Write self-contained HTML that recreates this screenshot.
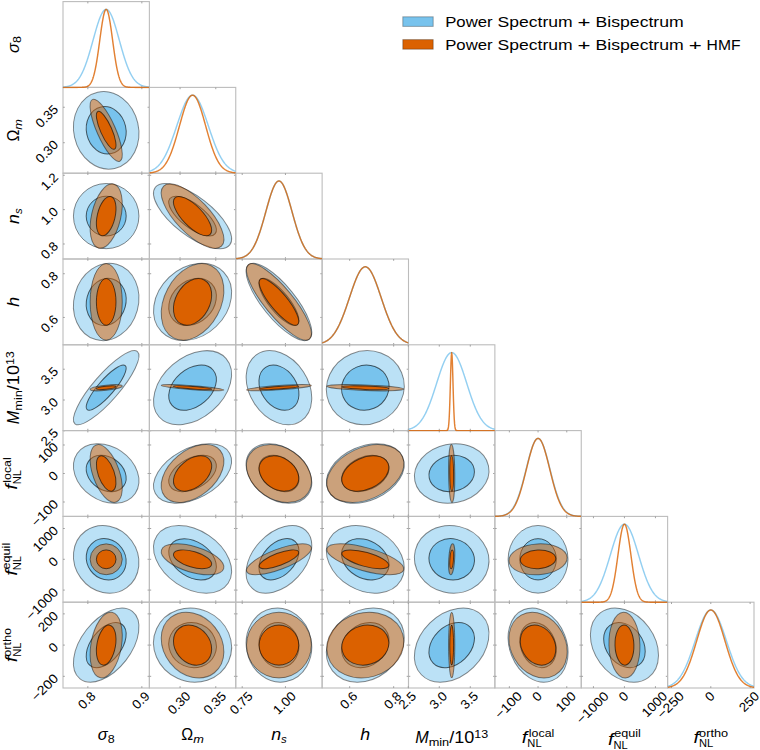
<!DOCTYPE html><html><head><meta charset="utf-8"><style>html,body{margin:0;padding:0;background:#fff;width:760px;height:750px;overflow:hidden}svg{display:block}text{font-family:"Liberation Sans",sans-serif;fill:#000}.i{font-style:italic}</style></head><body>
<svg width="760" height="750" viewBox="0 0 760 750">
<rect width="760" height="750" fill="#fff"/>
<defs>
<clipPath id="c00"><rect x="63.000" y="1.600" width="86.375" height="85.800"/></clipPath>
<clipPath id="d0"><rect x="63.000" y="1.600" width="86.375" height="86.800"/></clipPath>
<clipPath id="c10"><rect x="63.000" y="87.400" width="86.375" height="85.800"/></clipPath>
<clipPath id="c11"><rect x="149.375" y="87.400" width="86.375" height="85.800"/></clipPath>
<clipPath id="d1"><rect x="149.375" y="87.400" width="86.375" height="86.800"/></clipPath>
<clipPath id="c20"><rect x="63.000" y="173.200" width="86.375" height="85.800"/></clipPath>
<clipPath id="c21"><rect x="149.375" y="173.200" width="86.375" height="85.800"/></clipPath>
<clipPath id="c22"><rect x="235.750" y="173.200" width="86.375" height="85.800"/></clipPath>
<clipPath id="d2"><rect x="235.750" y="173.200" width="86.375" height="86.800"/></clipPath>
<clipPath id="c30"><rect x="63.000" y="259.000" width="86.375" height="85.800"/></clipPath>
<clipPath id="c31"><rect x="149.375" y="259.000" width="86.375" height="85.800"/></clipPath>
<clipPath id="c32"><rect x="235.750" y="259.000" width="86.375" height="85.800"/></clipPath>
<clipPath id="c33"><rect x="322.125" y="259.000" width="86.375" height="85.800"/></clipPath>
<clipPath id="d3"><rect x="322.125" y="259.000" width="86.375" height="86.800"/></clipPath>
<clipPath id="c40"><rect x="63.000" y="344.800" width="86.375" height="85.800"/></clipPath>
<clipPath id="c41"><rect x="149.375" y="344.800" width="86.375" height="85.800"/></clipPath>
<clipPath id="c42"><rect x="235.750" y="344.800" width="86.375" height="85.800"/></clipPath>
<clipPath id="c43"><rect x="322.125" y="344.800" width="86.375" height="85.800"/></clipPath>
<clipPath id="c44"><rect x="408.500" y="344.800" width="86.375" height="85.800"/></clipPath>
<clipPath id="d4"><rect x="408.500" y="344.800" width="86.375" height="86.800"/></clipPath>
<clipPath id="c50"><rect x="63.000" y="430.600" width="86.375" height="85.800"/></clipPath>
<clipPath id="c51"><rect x="149.375" y="430.600" width="86.375" height="85.800"/></clipPath>
<clipPath id="c52"><rect x="235.750" y="430.600" width="86.375" height="85.800"/></clipPath>
<clipPath id="c53"><rect x="322.125" y="430.600" width="86.375" height="85.800"/></clipPath>
<clipPath id="c54"><rect x="408.500" y="430.600" width="86.375" height="85.800"/></clipPath>
<clipPath id="c55"><rect x="494.875" y="430.600" width="86.375" height="85.800"/></clipPath>
<clipPath id="d5"><rect x="494.875" y="430.600" width="86.375" height="86.800"/></clipPath>
<clipPath id="c60"><rect x="63.000" y="516.400" width="86.375" height="85.800"/></clipPath>
<clipPath id="c61"><rect x="149.375" y="516.400" width="86.375" height="85.800"/></clipPath>
<clipPath id="c62"><rect x="235.750" y="516.400" width="86.375" height="85.800"/></clipPath>
<clipPath id="c63"><rect x="322.125" y="516.400" width="86.375" height="85.800"/></clipPath>
<clipPath id="c64"><rect x="408.500" y="516.400" width="86.375" height="85.800"/></clipPath>
<clipPath id="c65"><rect x="494.875" y="516.400" width="86.375" height="85.800"/></clipPath>
<clipPath id="c66"><rect x="581.250" y="516.400" width="86.375" height="85.800"/></clipPath>
<clipPath id="d6"><rect x="581.250" y="516.400" width="86.375" height="86.800"/></clipPath>
<clipPath id="c70"><rect x="63.000" y="602.200" width="86.375" height="85.800"/></clipPath>
<clipPath id="c71"><rect x="149.375" y="602.200" width="86.375" height="85.800"/></clipPath>
<clipPath id="c72"><rect x="235.750" y="602.200" width="86.375" height="85.800"/></clipPath>
<clipPath id="c73"><rect x="322.125" y="602.200" width="86.375" height="85.800"/></clipPath>
<clipPath id="c74"><rect x="408.500" y="602.200" width="86.375" height="85.800"/></clipPath>
<clipPath id="c75"><rect x="494.875" y="602.200" width="86.375" height="85.800"/></clipPath>
<clipPath id="c76"><rect x="581.250" y="602.200" width="86.375" height="85.800"/></clipPath>
<clipPath id="c77"><rect x="667.625" y="602.200" width="86.375" height="85.800"/></clipPath>
<clipPath id="d7"><rect x="667.625" y="602.200" width="86.375" height="86.800"/></clipPath>
</defs>
<g clip-path="url(#c10)">
<ellipse cx="106.19" cy="130.30" rx="39.06" ry="32.41" transform="rotate(77.34 106.19 130.30)" fill="#78C3ED" fill-opacity="0.500" stroke="#000000" stroke-opacity="0.450" stroke-width="1.00"/>
<ellipse cx="106.19" cy="130.30" rx="23.83" ry="19.77" transform="rotate(77.34 106.19 130.30)" fill="#78C3ED" fill-opacity="1.000" stroke="#000000" stroke-opacity="0.600" stroke-width="1.00"/>
<ellipse cx="106.19" cy="130.30" rx="33.78" ry="9.27" transform="rotate(66.13 106.19 130.30)" fill="#DB6100" fill-opacity="0.500" stroke="#000000" stroke-opacity="0.450" stroke-width="1.00"/>
<ellipse cx="106.19" cy="130.30" rx="20.61" ry="5.66" transform="rotate(66.13 106.19 130.30)" fill="#DB6100" fill-opacity="1.000" stroke="#000000" stroke-opacity="0.600" stroke-width="1.00"/>
</g>
<g clip-path="url(#c20)">
<ellipse cx="106.19" cy="216.10" rx="32.76" ry="32.60" transform="rotate(0.00 106.19 216.10)" fill="#78C3ED" fill-opacity="0.500" stroke="#000000" stroke-opacity="0.450" stroke-width="1.00"/>
<ellipse cx="106.19" cy="216.10" rx="19.99" ry="19.89" transform="rotate(0.00 106.19 216.10)" fill="#78C3ED" fill-opacity="1.000" stroke="#000000" stroke-opacity="0.600" stroke-width="1.00"/>
<ellipse cx="106.19" cy="216.10" rx="32.91" ry="14.63" transform="rotate(103.10 106.19 216.10)" fill="#DB6100" fill-opacity="0.500" stroke="#000000" stroke-opacity="0.450" stroke-width="1.00"/>
<ellipse cx="106.19" cy="216.10" rx="20.08" ry="8.93" transform="rotate(103.10 106.19 216.10)" fill="#DB6100" fill-opacity="1.000" stroke="#000000" stroke-opacity="0.600" stroke-width="1.00"/>
</g>
<g clip-path="url(#c21)">
<ellipse cx="192.56" cy="216.10" rx="47.04" ry="19.31" transform="rotate(37.75 192.56 216.10)" fill="#78C3ED" fill-opacity="0.500" stroke="#000000" stroke-opacity="0.450" stroke-width="1.00"/>
<ellipse cx="192.56" cy="216.10" rx="28.70" ry="11.78" transform="rotate(37.75 192.56 216.10)" fill="#78C3ED" fill-opacity="1.000" stroke="#000000" stroke-opacity="0.600" stroke-width="1.00"/>
<ellipse cx="192.56" cy="216.10" rx="41.68" ry="16.81" transform="rotate(46.13 192.56 216.10)" fill="#DB6100" fill-opacity="0.500" stroke="#000000" stroke-opacity="0.450" stroke-width="1.00"/>
<ellipse cx="192.56" cy="216.10" rx="25.43" ry="10.25" transform="rotate(46.13 192.56 216.10)" fill="#DB6100" fill-opacity="1.000" stroke="#000000" stroke-opacity="0.600" stroke-width="1.00"/>
</g>
<g clip-path="url(#c30)">
<ellipse cx="106.19" cy="301.90" rx="39.10" ry="32.22" transform="rotate(105.54 106.19 301.90)" fill="#78C3ED" fill-opacity="0.500" stroke="#000000" stroke-opacity="0.450" stroke-width="1.00"/>
<ellipse cx="106.19" cy="301.90" rx="23.85" ry="19.66" transform="rotate(105.54 106.19 301.90)" fill="#78C3ED" fill-opacity="1.000" stroke="#000000" stroke-opacity="0.600" stroke-width="1.00"/>
<ellipse cx="106.19" cy="301.90" rx="38.28" ry="16.08" transform="rotate(90.00 106.19 301.90)" fill="#DB6100" fill-opacity="0.500" stroke="#000000" stroke-opacity="0.450" stroke-width="1.00"/>
<ellipse cx="106.19" cy="301.90" rx="23.35" ry="9.81" transform="rotate(90.00 106.19 301.90)" fill="#DB6100" fill-opacity="1.000" stroke="#000000" stroke-opacity="0.600" stroke-width="1.00"/>
</g>
<g clip-path="url(#c31)">
<ellipse cx="192.56" cy="301.90" rx="43.08" ry="34.08" transform="rotate(136.23 192.56 301.90)" fill="#78C3ED" fill-opacity="0.500" stroke="#000000" stroke-opacity="0.450" stroke-width="1.00"/>
<ellipse cx="192.56" cy="301.90" rx="26.28" ry="20.79" transform="rotate(136.23 192.56 301.90)" fill="#78C3ED" fill-opacity="1.000" stroke="#000000" stroke-opacity="0.600" stroke-width="1.00"/>
<ellipse cx="192.56" cy="301.90" rx="40.70" ry="28.10" transform="rotate(118.04 192.56 301.90)" fill="#DB6100" fill-opacity="0.500" stroke="#000000" stroke-opacity="0.450" stroke-width="1.00"/>
<ellipse cx="192.56" cy="301.90" rx="24.83" ry="17.14" transform="rotate(118.04 192.56 301.90)" fill="#DB6100" fill-opacity="1.000" stroke="#000000" stroke-opacity="0.600" stroke-width="1.00"/>
</g>
<g clip-path="url(#c32)">
<ellipse cx="278.94" cy="301.90" rx="47.98" ry="16.37" transform="rotate(50.91 278.94 301.90)" fill="#78C3ED" fill-opacity="0.500" stroke="#000000" stroke-opacity="0.450" stroke-width="1.00"/>
<ellipse cx="278.94" cy="301.90" rx="29.27" ry="9.99" transform="rotate(50.91 278.94 301.90)" fill="#78C3ED" fill-opacity="1.000" stroke="#000000" stroke-opacity="0.600" stroke-width="1.00"/>
<ellipse cx="278.94" cy="301.90" rx="48.12" ry="14.20" transform="rotate(50.63 278.94 301.90)" fill="#DB6100" fill-opacity="0.500" stroke="#000000" stroke-opacity="0.450" stroke-width="1.00"/>
<ellipse cx="278.94" cy="301.90" rx="29.36" ry="8.66" transform="rotate(50.63 278.94 301.90)" fill="#DB6100" fill-opacity="1.000" stroke="#000000" stroke-opacity="0.600" stroke-width="1.00"/>
</g>
<g clip-path="url(#c40)">
<ellipse cx="106.19" cy="387.70" rx="47.72" ry="12.98" transform="rotate(130.93 106.19 387.70)" fill="#78C3ED" fill-opacity="0.500" stroke="#000000" stroke-opacity="0.450" stroke-width="1.00"/>
<ellipse cx="106.19" cy="387.70" rx="29.11" ry="7.92" transform="rotate(130.93 106.19 387.70)" fill="#78C3ED" fill-opacity="1.000" stroke="#000000" stroke-opacity="0.600" stroke-width="1.00"/>
<ellipse cx="106.19" cy="387.70" rx="16.18" ry="2.56" transform="rotate(173.82 106.19 387.70)" fill="#DB6100" fill-opacity="0.500" stroke="#000000" stroke-opacity="0.450" stroke-width="1.00"/>
<ellipse cx="106.19" cy="387.70" rx="9.87" ry="1.56" transform="rotate(173.82 106.19 387.70)" fill="#DB6100" fill-opacity="1.000" stroke="#000000" stroke-opacity="0.600" stroke-width="1.00"/>
</g>
<g clip-path="url(#c41)">
<ellipse cx="192.56" cy="387.70" rx="44.43" ry="30.36" transform="rotate(139.13 192.56 387.70)" fill="#78C3ED" fill-opacity="0.500" stroke="#000000" stroke-opacity="0.450" stroke-width="1.00"/>
<ellipse cx="192.56" cy="387.70" rx="27.10" ry="18.52" transform="rotate(139.13 192.56 387.70)" fill="#78C3ED" fill-opacity="1.000" stroke="#000000" stroke-opacity="0.600" stroke-width="1.00"/>
<ellipse cx="192.56" cy="387.70" rx="31.41" ry="2.04" transform="rotate(4.24 192.56 387.70)" fill="#DB6100" fill-opacity="0.500" stroke="#000000" stroke-opacity="0.450" stroke-width="1.00"/>
<ellipse cx="192.56" cy="387.70" rx="19.16" ry="1.24" transform="rotate(4.24 192.56 387.70)" fill="#DB6100" fill-opacity="1.000" stroke="#000000" stroke-opacity="0.600" stroke-width="1.00"/>
</g>
<g clip-path="url(#c42)">
<ellipse cx="278.94" cy="387.70" rx="39.94" ry="29.21" transform="rotate(56.72 278.94 387.70)" fill="#78C3ED" fill-opacity="0.500" stroke="#000000" stroke-opacity="0.450" stroke-width="1.00"/>
<ellipse cx="278.94" cy="387.70" rx="24.37" ry="17.82" transform="rotate(56.72 278.94 387.70)" fill="#78C3ED" fill-opacity="1.000" stroke="#000000" stroke-opacity="0.600" stroke-width="1.00"/>
<ellipse cx="278.94" cy="387.70" rx="32.52" ry="2.10" transform="rotate(176.01 278.94 387.70)" fill="#DB6100" fill-opacity="0.500" stroke="#000000" stroke-opacity="0.450" stroke-width="1.00"/>
<ellipse cx="278.94" cy="387.70" rx="19.84" ry="1.28" transform="rotate(176.01 278.94 387.70)" fill="#DB6100" fill-opacity="1.000" stroke="#000000" stroke-opacity="0.600" stroke-width="1.00"/>
</g>
<g clip-path="url(#c43)">
<ellipse cx="365.31" cy="387.70" rx="39.29" ry="36.63" transform="rotate(157.25 365.31 387.70)" fill="#78C3ED" fill-opacity="0.500" stroke="#000000" stroke-opacity="0.450" stroke-width="1.00"/>
<ellipse cx="365.31" cy="387.70" rx="23.97" ry="22.35" transform="rotate(157.25 365.31 387.70)" fill="#78C3ED" fill-opacity="1.000" stroke="#000000" stroke-opacity="0.600" stroke-width="1.00"/>
<ellipse cx="365.31" cy="387.70" rx="38.56" ry="2.75" transform="rotate(2.08 365.31 387.70)" fill="#DB6100" fill-opacity="0.500" stroke="#000000" stroke-opacity="0.450" stroke-width="1.00"/>
<ellipse cx="365.31" cy="387.70" rx="23.52" ry="1.68" transform="rotate(2.08 365.31 387.70)" fill="#DB6100" fill-opacity="1.000" stroke="#000000" stroke-opacity="0.600" stroke-width="1.00"/>
</g>
<g clip-path="url(#c50)">
<ellipse cx="106.19" cy="473.50" rx="35.22" ry="26.80" transform="rotate(34.45 106.19 473.50)" fill="#78C3ED" fill-opacity="0.500" stroke="#000000" stroke-opacity="0.450" stroke-width="1.00"/>
<ellipse cx="106.19" cy="473.50" rx="21.49" ry="16.35" transform="rotate(34.45 106.19 473.50)" fill="#78C3ED" fill-opacity="1.000" stroke="#000000" stroke-opacity="0.600" stroke-width="1.00"/>
<ellipse cx="106.19" cy="473.50" rx="30.28" ry="13.29" transform="rotate(70.55 106.19 473.50)" fill="#DB6100" fill-opacity="0.500" stroke="#000000" stroke-opacity="0.450" stroke-width="1.00"/>
<ellipse cx="106.19" cy="473.50" rx="18.47" ry="8.11" transform="rotate(70.55 106.19 473.50)" fill="#DB6100" fill-opacity="1.000" stroke="#000000" stroke-opacity="0.600" stroke-width="1.00"/>
</g>
<g clip-path="url(#c51)">
<ellipse cx="192.56" cy="473.50" rx="42.27" ry="24.93" transform="rotate(151.59 192.56 473.50)" fill="#78C3ED" fill-opacity="0.500" stroke="#000000" stroke-opacity="0.450" stroke-width="1.00"/>
<ellipse cx="192.56" cy="473.50" rx="25.79" ry="15.21" transform="rotate(151.59 192.56 473.50)" fill="#78C3ED" fill-opacity="1.000" stroke="#000000" stroke-opacity="0.600" stroke-width="1.00"/>
<ellipse cx="192.56" cy="473.50" rx="35.99" ry="22.82" transform="rotate(140.45 192.56 473.50)" fill="#DB6100" fill-opacity="0.500" stroke="#000000" stroke-opacity="0.450" stroke-width="1.00"/>
<ellipse cx="192.56" cy="473.50" rx="21.95" ry="13.92" transform="rotate(140.45 192.56 473.50)" fill="#DB6100" fill-opacity="1.000" stroke="#000000" stroke-opacity="0.600" stroke-width="1.00"/>
</g>
<g clip-path="url(#c52)">
<ellipse cx="278.94" cy="473.50" rx="35.91" ry="25.94" transform="rotate(35.96 278.94 473.50)" fill="#78C3ED" fill-opacity="0.500" stroke="#000000" stroke-opacity="0.450" stroke-width="1.00"/>
<ellipse cx="278.94" cy="473.50" rx="21.91" ry="15.83" transform="rotate(35.96 278.94 473.50)" fill="#78C3ED" fill-opacity="1.000" stroke="#000000" stroke-opacity="0.600" stroke-width="1.00"/>
<ellipse cx="278.94" cy="473.50" rx="34.92" ry="25.85" transform="rotate(33.36 278.94 473.50)" fill="#DB6100" fill-opacity="0.500" stroke="#000000" stroke-opacity="0.450" stroke-width="1.00"/>
<ellipse cx="278.94" cy="473.50" rx="21.30" ry="15.77" transform="rotate(33.36 278.94 473.50)" fill="#DB6100" fill-opacity="1.000" stroke="#000000" stroke-opacity="0.600" stroke-width="1.00"/>
</g>
<g clip-path="url(#c53)">
<ellipse cx="365.31" cy="473.50" rx="40.84" ry="27.04" transform="rotate(156.06 365.31 473.50)" fill="#78C3ED" fill-opacity="0.500" stroke="#000000" stroke-opacity="0.450" stroke-width="1.00"/>
<ellipse cx="365.31" cy="473.50" rx="24.91" ry="16.50" transform="rotate(156.06 365.31 473.50)" fill="#78C3ED" fill-opacity="1.000" stroke="#000000" stroke-opacity="0.600" stroke-width="1.00"/>
<ellipse cx="365.31" cy="473.50" rx="40.73" ry="25.71" transform="rotate(155.32 365.31 473.50)" fill="#DB6100" fill-opacity="0.500" stroke="#000000" stroke-opacity="0.450" stroke-width="1.00"/>
<ellipse cx="365.31" cy="473.50" rx="24.85" ry="15.68" transform="rotate(155.32 365.31 473.50)" fill="#DB6100" fill-opacity="1.000" stroke="#000000" stroke-opacity="0.600" stroke-width="1.00"/>
</g>
<g clip-path="url(#c54)">
<ellipse cx="451.69" cy="473.50" rx="37.60" ry="29.36" transform="rotate(168.14 451.69 473.50)" fill="#78C3ED" fill-opacity="0.500" stroke="#000000" stroke-opacity="0.450" stroke-width="1.00"/>
<ellipse cx="451.69" cy="473.50" rx="22.94" ry="17.91" transform="rotate(168.14 451.69 473.50)" fill="#78C3ED" fill-opacity="1.000" stroke="#000000" stroke-opacity="0.600" stroke-width="1.00"/>
<ellipse cx="451.69" cy="473.50" rx="28.89" ry="3.09" transform="rotate(89.38 451.69 473.50)" fill="#DB6100" fill-opacity="0.500" stroke="#000000" stroke-opacity="0.450" stroke-width="1.00"/>
<ellipse cx="451.69" cy="473.50" rx="17.63" ry="1.89" transform="rotate(89.38 451.69 473.50)" fill="#DB6100" fill-opacity="1.000" stroke="#000000" stroke-opacity="0.600" stroke-width="1.00"/>
</g>
<g clip-path="url(#c60)">
<ellipse cx="106.19" cy="559.30" rx="35.01" ry="31.51" transform="rotate(53.88 106.19 559.30)" fill="#78C3ED" fill-opacity="0.500" stroke="#000000" stroke-opacity="0.450" stroke-width="1.00"/>
<ellipse cx="106.19" cy="559.30" rx="21.36" ry="19.22" transform="rotate(53.88 106.19 559.30)" fill="#78C3ED" fill-opacity="1.000" stroke="#000000" stroke-opacity="0.600" stroke-width="1.00"/>
<ellipse cx="106.19" cy="559.30" rx="16.08" ry="15.43" transform="rotate(0.00 106.19 559.30)" fill="#DB6100" fill-opacity="0.500" stroke="#000000" stroke-opacity="0.450" stroke-width="1.00"/>
<ellipse cx="106.19" cy="559.30" rx="9.81" ry="9.42" transform="rotate(0.00 106.19 559.30)" fill="#DB6100" fill-opacity="1.000" stroke="#000000" stroke-opacity="0.600" stroke-width="1.00"/>
</g>
<g clip-path="url(#c61)">
<ellipse cx="192.56" cy="559.30" rx="42.82" ry="28.89" transform="rotate(33.86 192.56 559.30)" fill="#78C3ED" fill-opacity="0.500" stroke="#000000" stroke-opacity="0.450" stroke-width="1.00"/>
<ellipse cx="192.56" cy="559.30" rx="26.12" ry="17.62" transform="rotate(33.86 192.56 559.30)" fill="#78C3ED" fill-opacity="1.000" stroke="#000000" stroke-opacity="0.600" stroke-width="1.00"/>
<ellipse cx="192.56" cy="559.30" rx="32.45" ry="12.90" transform="rotate(16.53 192.56 559.30)" fill="#DB6100" fill-opacity="0.500" stroke="#000000" stroke-opacity="0.450" stroke-width="1.00"/>
<ellipse cx="192.56" cy="559.30" rx="19.79" ry="7.87" transform="rotate(16.53 192.56 559.30)" fill="#DB6100" fill-opacity="1.000" stroke="#000000" stroke-opacity="0.600" stroke-width="1.00"/>
</g>
<g clip-path="url(#c62)">
<ellipse cx="278.94" cy="559.30" rx="39.45" ry="25.79" transform="rotate(132.82 278.94 559.30)" fill="#78C3ED" fill-opacity="0.500" stroke="#000000" stroke-opacity="0.450" stroke-width="1.00"/>
<ellipse cx="278.94" cy="559.30" rx="24.06" ry="15.74" transform="rotate(132.82 278.94 559.30)" fill="#78C3ED" fill-opacity="1.000" stroke="#000000" stroke-opacity="0.600" stroke-width="1.00"/>
<ellipse cx="278.94" cy="559.30" rx="34.48" ry="10.08" transform="rotate(159.24 278.94 559.30)" fill="#DB6100" fill-opacity="0.500" stroke="#000000" stroke-opacity="0.450" stroke-width="1.00"/>
<ellipse cx="278.94" cy="559.30" rx="21.04" ry="6.15" transform="rotate(159.24 278.94 559.30)" fill="#DB6100" fill-opacity="1.000" stroke="#000000" stroke-opacity="0.600" stroke-width="1.00"/>
</g>
<g clip-path="url(#c63)">
<ellipse cx="365.31" cy="559.30" rx="41.31" ry="30.85" transform="rotate(30.36 365.31 559.30)" fill="#78C3ED" fill-opacity="0.500" stroke="#000000" stroke-opacity="0.450" stroke-width="1.00"/>
<ellipse cx="365.31" cy="559.30" rx="25.20" ry="18.82" transform="rotate(30.36 365.31 559.30)" fill="#78C3ED" fill-opacity="1.000" stroke="#000000" stroke-opacity="0.600" stroke-width="1.00"/>
<ellipse cx="365.31" cy="559.30" rx="39.86" ry="11.59" transform="rotate(15.51 365.31 559.30)" fill="#DB6100" fill-opacity="0.500" stroke="#000000" stroke-opacity="0.450" stroke-width="1.00"/>
<ellipse cx="365.31" cy="559.30" rx="24.32" ry="7.07" transform="rotate(15.51 365.31 559.30)" fill="#DB6100" fill-opacity="1.000" stroke="#000000" stroke-opacity="0.600" stroke-width="1.00"/>
</g>
<g clip-path="url(#c64)">
<ellipse cx="451.69" cy="559.30" rx="37.49" ry="33.61" transform="rotate(13.58 451.69 559.30)" fill="#78C3ED" fill-opacity="0.500" stroke="#000000" stroke-opacity="0.450" stroke-width="1.00"/>
<ellipse cx="451.69" cy="559.30" rx="22.87" ry="20.50" transform="rotate(13.58 451.69 559.30)" fill="#78C3ED" fill-opacity="1.000" stroke="#000000" stroke-opacity="0.600" stroke-width="1.00"/>
<ellipse cx="451.69" cy="559.30" rx="15.46" ry="2.96" transform="rotate(93.59 451.69 559.30)" fill="#DB6100" fill-opacity="0.500" stroke="#000000" stroke-opacity="0.450" stroke-width="1.00"/>
<ellipse cx="451.69" cy="559.30" rx="9.43" ry="1.80" transform="rotate(93.59 451.69 559.30)" fill="#DB6100" fill-opacity="1.000" stroke="#000000" stroke-opacity="0.600" stroke-width="1.00"/>
</g>
<g clip-path="url(#c65)">
<ellipse cx="538.06" cy="559.30" rx="33.83" ry="29.96" transform="rotate(90.00 538.06 559.30)" fill="#78C3ED" fill-opacity="0.500" stroke="#000000" stroke-opacity="0.450" stroke-width="1.00"/>
<ellipse cx="538.06" cy="559.30" rx="20.64" ry="18.27" transform="rotate(90.00 538.06 559.30)" fill="#78C3ED" fill-opacity="1.000" stroke="#000000" stroke-opacity="0.600" stroke-width="1.00"/>
<ellipse cx="538.06" cy="559.30" rx="29.12" ry="15.37" transform="rotate(176.63 538.06 559.30)" fill="#DB6100" fill-opacity="0.500" stroke="#000000" stroke-opacity="0.450" stroke-width="1.00"/>
<ellipse cx="538.06" cy="559.30" rx="17.77" ry="9.37" transform="rotate(176.63 538.06 559.30)" fill="#DB6100" fill-opacity="1.000" stroke="#000000" stroke-opacity="0.600" stroke-width="1.00"/>
</g>
<g clip-path="url(#c70)">
<ellipse cx="106.19" cy="645.10" rx="42.71" ry="24.93" transform="rotate(127.81 106.19 645.10)" fill="#78C3ED" fill-opacity="0.500" stroke="#000000" stroke-opacity="0.450" stroke-width="1.00"/>
<ellipse cx="106.19" cy="645.10" rx="26.06" ry="15.21" transform="rotate(127.81 106.19 645.10)" fill="#78C3ED" fill-opacity="1.000" stroke="#000000" stroke-opacity="0.600" stroke-width="1.00"/>
<ellipse cx="106.19" cy="645.10" rx="33.23" ry="15.26" transform="rotate(99.92 106.19 645.10)" fill="#DB6100" fill-opacity="0.500" stroke="#000000" stroke-opacity="0.450" stroke-width="1.00"/>
<ellipse cx="106.19" cy="645.10" rx="20.27" ry="9.31" transform="rotate(99.92 106.19 645.10)" fill="#DB6100" fill-opacity="1.000" stroke="#000000" stroke-opacity="0.600" stroke-width="1.00"/>
</g>
<g clip-path="url(#c71)">
<ellipse cx="192.56" cy="645.10" rx="39.53" ry="36.50" transform="rotate(24.46 192.56 645.10)" fill="#78C3ED" fill-opacity="0.500" stroke="#000000" stroke-opacity="0.450" stroke-width="1.00"/>
<ellipse cx="192.56" cy="645.10" rx="24.12" ry="22.27" transform="rotate(24.46 192.56 645.10)" fill="#78C3ED" fill-opacity="1.000" stroke="#000000" stroke-opacity="0.600" stroke-width="1.00"/>
<ellipse cx="192.56" cy="645.10" rx="35.23" ry="28.61" transform="rotate(51.67 192.56 645.10)" fill="#DB6100" fill-opacity="0.500" stroke="#000000" stroke-opacity="0.450" stroke-width="1.00"/>
<ellipse cx="192.56" cy="645.10" rx="21.49" ry="17.45" transform="rotate(51.67 192.56 645.10)" fill="#DB6100" fill-opacity="1.000" stroke="#000000" stroke-opacity="0.600" stroke-width="1.00"/>
</g>
<g clip-path="url(#c72)">
<ellipse cx="278.94" cy="645.10" rx="37.20" ry="32.63" transform="rotate(78.81 278.94 645.10)" fill="#78C3ED" fill-opacity="0.500" stroke="#000000" stroke-opacity="0.450" stroke-width="1.00"/>
<ellipse cx="278.94" cy="645.10" rx="22.70" ry="19.91" transform="rotate(78.81 278.94 645.10)" fill="#78C3ED" fill-opacity="1.000" stroke="#000000" stroke-opacity="0.600" stroke-width="1.00"/>
<ellipse cx="278.94" cy="645.10" rx="32.84" ry="32.44" transform="rotate(90.00 278.94 645.10)" fill="#DB6100" fill-opacity="0.500" stroke="#000000" stroke-opacity="0.450" stroke-width="1.00"/>
<ellipse cx="278.94" cy="645.10" rx="20.04" ry="19.79" transform="rotate(90.00 278.94 645.10)" fill="#DB6100" fill-opacity="1.000" stroke="#000000" stroke-opacity="0.600" stroke-width="1.00"/>
</g>
<g clip-path="url(#c73)">
<ellipse cx="365.31" cy="645.10" rx="41.71" ry="33.85" transform="rotate(141.90 365.31 645.10)" fill="#78C3ED" fill-opacity="0.500" stroke="#000000" stroke-opacity="0.450" stroke-width="1.00"/>
<ellipse cx="365.31" cy="645.10" rx="25.44" ry="20.65" transform="rotate(141.90 365.31 645.10)" fill="#78C3ED" fill-opacity="1.000" stroke="#000000" stroke-opacity="0.600" stroke-width="1.00"/>
<ellipse cx="365.31" cy="645.10" rx="39.00" ry="32.29" transform="rotate(164.03 365.31 645.10)" fill="#DB6100" fill-opacity="0.500" stroke="#000000" stroke-opacity="0.450" stroke-width="1.00"/>
<ellipse cx="365.31" cy="645.10" rx="23.79" ry="19.70" transform="rotate(164.03 365.31 645.10)" fill="#DB6100" fill-opacity="1.000" stroke="#000000" stroke-opacity="0.600" stroke-width="1.00"/>
</g>
<g clip-path="url(#c74)">
<ellipse cx="451.69" cy="645.10" rx="42.38" ry="31.09" transform="rotate(135.64 451.69 645.10)" fill="#78C3ED" fill-opacity="0.500" stroke="#000000" stroke-opacity="0.450" stroke-width="1.00"/>
<ellipse cx="451.69" cy="645.10" rx="25.85" ry="18.97" transform="rotate(135.64 451.69 645.10)" fill="#78C3ED" fill-opacity="1.000" stroke="#000000" stroke-opacity="0.600" stroke-width="1.00"/>
<ellipse cx="451.69" cy="645.10" rx="32.84" ry="3.11" transform="rotate(90.00 451.69 645.10)" fill="#DB6100" fill-opacity="0.500" stroke="#000000" stroke-opacity="0.450" stroke-width="1.00"/>
<ellipse cx="451.69" cy="645.10" rx="20.04" ry="1.90" transform="rotate(90.00 451.69 645.10)" fill="#DB6100" fill-opacity="1.000" stroke="#000000" stroke-opacity="0.600" stroke-width="1.00"/>
</g>
<g clip-path="url(#c75)">
<ellipse cx="538.06" cy="645.10" rx="38.21" ry="28.46" transform="rotate(68.46 538.06 645.10)" fill="#78C3ED" fill-opacity="0.500" stroke="#000000" stroke-opacity="0.450" stroke-width="1.00"/>
<ellipse cx="538.06" cy="645.10" rx="23.31" ry="17.36" transform="rotate(68.46 538.06 645.10)" fill="#78C3ED" fill-opacity="1.000" stroke="#000000" stroke-opacity="0.600" stroke-width="1.00"/>
<ellipse cx="538.06" cy="645.10" rx="34.44" ry="27.18" transform="rotate(60.67 538.06 645.10)" fill="#DB6100" fill-opacity="0.500" stroke="#000000" stroke-opacity="0.450" stroke-width="1.00"/>
<ellipse cx="538.06" cy="645.10" rx="21.01" ry="16.58" transform="rotate(60.67 538.06 645.10)" fill="#DB6100" fill-opacity="1.000" stroke="#000000" stroke-opacity="0.600" stroke-width="1.00"/>
</g>
<g clip-path="url(#c76)">
<ellipse cx="624.44" cy="645.10" rx="40.28" ry="30.15" transform="rotate(53.65 624.44 645.10)" fill="#78C3ED" fill-opacity="0.500" stroke="#000000" stroke-opacity="0.450" stroke-width="1.00"/>
<ellipse cx="624.44" cy="645.10" rx="24.57" ry="18.40" transform="rotate(53.65 624.44 645.10)" fill="#78C3ED" fill-opacity="1.000" stroke="#000000" stroke-opacity="0.600" stroke-width="1.00"/>
<ellipse cx="624.44" cy="645.10" rx="32.85" ry="15.51" transform="rotate(88.26 624.44 645.10)" fill="#DB6100" fill-opacity="0.500" stroke="#000000" stroke-opacity="0.450" stroke-width="1.00"/>
<ellipse cx="624.44" cy="645.10" rx="20.04" ry="9.46" transform="rotate(88.26 624.44 645.10)" fill="#DB6100" fill-opacity="1.000" stroke="#000000" stroke-opacity="0.600" stroke-width="1.00"/>
</g>
<rect x="63.000" y="1.600" width="86.375" height="85.800" fill="none" stroke="#bcbcbc" stroke-width="1.10"/>
<path d="M87.83 87.40v-1.80M87.83 1.60v1.80" stroke="#999999" stroke-width="0.90"/>
<path d="M141.83 87.40v-1.80M141.83 1.60v1.80" stroke="#999999" stroke-width="0.90"/>
<rect x="63.000" y="87.400" width="86.375" height="85.800" fill="none" stroke="#bcbcbc" stroke-width="1.10"/>
<path d="M87.83 173.20v-1.80M87.83 87.40v1.80" stroke="#999999" stroke-width="0.90"/>
<path d="M141.83 173.20v-1.80M141.83 87.40v1.80" stroke="#999999" stroke-width="0.90"/>
<path d="M63.00 142.71h1.80M149.38 142.71h-1.80" stroke="#999999" stroke-width="0.90"/>
<path d="M63.00 107.25h1.80M149.38 107.25h-1.80" stroke="#999999" stroke-width="0.90"/>
<rect x="149.375" y="87.400" width="86.375" height="85.800" fill="none" stroke="#bcbcbc" stroke-width="1.10"/>
<path d="M180.07 173.20v-1.80M180.07 87.40v1.80" stroke="#999999" stroke-width="0.90"/>
<path d="M215.77 173.20v-1.80M215.77 87.40v1.80" stroke="#999999" stroke-width="0.90"/>
<rect x="63.000" y="173.200" width="86.375" height="85.800" fill="none" stroke="#bcbcbc" stroke-width="1.10"/>
<path d="M87.83 259.00v-1.80M87.83 173.20v1.80" stroke="#999999" stroke-width="0.90"/>
<path d="M141.83 259.00v-1.80M141.83 173.20v1.80" stroke="#999999" stroke-width="0.90"/>
<path d="M63.00 243.99h1.80M149.38 243.99h-1.80" stroke="#999999" stroke-width="0.90"/>
<path d="M63.00 209.64h1.80M149.38 209.64h-1.80" stroke="#999999" stroke-width="0.90"/>
<path d="M63.00 175.29h1.80M149.38 175.29h-1.80" stroke="#999999" stroke-width="0.90"/>
<rect x="149.375" y="173.200" width="86.375" height="85.800" fill="none" stroke="#bcbcbc" stroke-width="1.10"/>
<path d="M180.07 259.00v-1.80M180.07 173.20v1.80" stroke="#999999" stroke-width="0.90"/>
<path d="M215.77 259.00v-1.80M215.77 173.20v1.80" stroke="#999999" stroke-width="0.90"/>
<path d="M149.38 243.99h1.80M235.75 243.99h-1.80" stroke="#999999" stroke-width="0.90"/>
<path d="M149.38 209.64h1.80M235.75 209.64h-1.80" stroke="#999999" stroke-width="0.90"/>
<path d="M149.38 175.29h1.80M235.75 175.29h-1.80" stroke="#999999" stroke-width="0.90"/>
<rect x="235.750" y="173.200" width="86.375" height="85.800" fill="none" stroke="#bcbcbc" stroke-width="1.10"/>
<path d="M242.21 259.00v-1.80M242.21 173.20v1.80" stroke="#999999" stroke-width="0.90"/>
<path d="M285.44 259.00v-1.80M285.44 173.20v1.80" stroke="#999999" stroke-width="0.90"/>
<rect x="63.000" y="259.000" width="86.375" height="85.800" fill="none" stroke="#bcbcbc" stroke-width="1.10"/>
<path d="M87.83 344.80v-1.80M87.83 259.00v1.80" stroke="#999999" stroke-width="0.90"/>
<path d="M141.83 344.80v-1.80M141.83 259.00v1.80" stroke="#999999" stroke-width="0.90"/>
<path d="M63.00 317.44h1.80M149.38 317.44h-1.80" stroke="#999999" stroke-width="0.90"/>
<path d="M63.00 273.73h1.80M149.38 273.73h-1.80" stroke="#999999" stroke-width="0.90"/>
<rect x="149.375" y="259.000" width="86.375" height="85.800" fill="none" stroke="#bcbcbc" stroke-width="1.10"/>
<path d="M180.07 344.80v-1.80M180.07 259.00v1.80" stroke="#999999" stroke-width="0.90"/>
<path d="M215.77 344.80v-1.80M215.77 259.00v1.80" stroke="#999999" stroke-width="0.90"/>
<path d="M149.38 317.44h1.80M235.75 317.44h-1.80" stroke="#999999" stroke-width="0.90"/>
<path d="M149.38 273.73h1.80M235.75 273.73h-1.80" stroke="#999999" stroke-width="0.90"/>
<rect x="235.750" y="259.000" width="86.375" height="85.800" fill="none" stroke="#bcbcbc" stroke-width="1.10"/>
<path d="M242.21 344.80v-1.80M242.21 259.00v1.80" stroke="#999999" stroke-width="0.90"/>
<path d="M285.44 344.80v-1.80M285.44 259.00v1.80" stroke="#999999" stroke-width="0.90"/>
<path d="M235.75 317.44h1.80M322.12 317.44h-1.80" stroke="#999999" stroke-width="0.90"/>
<path d="M235.75 273.73h1.80M322.12 273.73h-1.80" stroke="#999999" stroke-width="0.90"/>
<rect x="322.125" y="259.000" width="86.375" height="85.800" fill="none" stroke="#bcbcbc" stroke-width="1.10"/>
<path d="M349.67 344.80v-1.80M349.67 259.00v1.80" stroke="#999999" stroke-width="0.90"/>
<path d="M393.67 344.80v-1.80M393.67 259.00v1.80" stroke="#999999" stroke-width="0.90"/>
<rect x="63.000" y="344.800" width="86.375" height="85.800" fill="none" stroke="#bcbcbc" stroke-width="1.10"/>
<path d="M87.83 430.60v-1.80M87.83 344.80v1.80" stroke="#999999" stroke-width="0.90"/>
<path d="M141.83 430.60v-1.80M141.83 344.80v1.80" stroke="#999999" stroke-width="0.90"/>
<path d="M63.00 430.81h1.80M149.38 430.81h-1.80" stroke="#999999" stroke-width="0.90"/>
<path d="M63.00 400.02h1.80M149.38 400.02h-1.80" stroke="#999999" stroke-width="0.90"/>
<path d="M63.00 369.22h1.80M149.38 369.22h-1.80" stroke="#999999" stroke-width="0.90"/>
<rect x="149.375" y="344.800" width="86.375" height="85.800" fill="none" stroke="#bcbcbc" stroke-width="1.10"/>
<path d="M180.07 430.60v-1.80M180.07 344.80v1.80" stroke="#999999" stroke-width="0.90"/>
<path d="M215.77 430.60v-1.80M215.77 344.80v1.80" stroke="#999999" stroke-width="0.90"/>
<path d="M149.38 430.81h1.80M235.75 430.81h-1.80" stroke="#999999" stroke-width="0.90"/>
<path d="M149.38 400.02h1.80M235.75 400.02h-1.80" stroke="#999999" stroke-width="0.90"/>
<path d="M149.38 369.22h1.80M235.75 369.22h-1.80" stroke="#999999" stroke-width="0.90"/>
<rect x="235.750" y="344.800" width="86.375" height="85.800" fill="none" stroke="#bcbcbc" stroke-width="1.10"/>
<path d="M242.21 430.60v-1.80M242.21 344.80v1.80" stroke="#999999" stroke-width="0.90"/>
<path d="M285.44 430.60v-1.80M285.44 344.80v1.80" stroke="#999999" stroke-width="0.90"/>
<path d="M235.75 430.81h1.80M322.12 430.81h-1.80" stroke="#999999" stroke-width="0.90"/>
<path d="M235.75 400.02h1.80M322.12 400.02h-1.80" stroke="#999999" stroke-width="0.90"/>
<path d="M235.75 369.22h1.80M322.12 369.22h-1.80" stroke="#999999" stroke-width="0.90"/>
<rect x="322.125" y="344.800" width="86.375" height="85.800" fill="none" stroke="#bcbcbc" stroke-width="1.10"/>
<path d="M349.67 430.60v-1.80M349.67 344.80v1.80" stroke="#999999" stroke-width="0.90"/>
<path d="M393.67 430.60v-1.80M393.67 344.80v1.80" stroke="#999999" stroke-width="0.90"/>
<path d="M322.12 430.81h1.80M408.50 430.81h-1.80" stroke="#999999" stroke-width="0.90"/>
<path d="M322.12 400.02h1.80M408.50 400.02h-1.80" stroke="#999999" stroke-width="0.90"/>
<path d="M322.12 369.22h1.80M408.50 369.22h-1.80" stroke="#999999" stroke-width="0.90"/>
<rect x="408.500" y="344.800" width="86.375" height="85.800" fill="none" stroke="#bcbcbc" stroke-width="1.10"/>
<path d="M408.29 430.60v-1.80M408.29 344.80v1.80" stroke="#999999" stroke-width="0.90"/>
<path d="M439.29 430.60v-1.80M439.29 344.80v1.80" stroke="#999999" stroke-width="0.90"/>
<path d="M470.29 430.60v-1.80M470.29 344.80v1.80" stroke="#999999" stroke-width="0.90"/>
<rect x="63.000" y="430.600" width="86.375" height="85.800" fill="none" stroke="#bcbcbc" stroke-width="1.10"/>
<path d="M87.83 516.40v-1.80M87.83 430.60v1.80" stroke="#999999" stroke-width="0.90"/>
<path d="M141.83 516.40v-1.80M141.83 430.60v1.80" stroke="#999999" stroke-width="0.90"/>
<path d="M63.00 502.01h1.80M149.38 502.01h-1.80" stroke="#999999" stroke-width="0.90"/>
<path d="M63.00 473.50h1.80M149.38 473.50h-1.80" stroke="#999999" stroke-width="0.90"/>
<path d="M63.00 444.99h1.80M149.38 444.99h-1.80" stroke="#999999" stroke-width="0.90"/>
<rect x="149.375" y="430.600" width="86.375" height="85.800" fill="none" stroke="#bcbcbc" stroke-width="1.10"/>
<path d="M180.07 516.40v-1.80M180.07 430.60v1.80" stroke="#999999" stroke-width="0.90"/>
<path d="M215.77 516.40v-1.80M215.77 430.60v1.80" stroke="#999999" stroke-width="0.90"/>
<path d="M149.38 502.01h1.80M235.75 502.01h-1.80" stroke="#999999" stroke-width="0.90"/>
<path d="M149.38 473.50h1.80M235.75 473.50h-1.80" stroke="#999999" stroke-width="0.90"/>
<path d="M149.38 444.99h1.80M235.75 444.99h-1.80" stroke="#999999" stroke-width="0.90"/>
<rect x="235.750" y="430.600" width="86.375" height="85.800" fill="none" stroke="#bcbcbc" stroke-width="1.10"/>
<path d="M242.21 516.40v-1.80M242.21 430.60v1.80" stroke="#999999" stroke-width="0.90"/>
<path d="M285.44 516.40v-1.80M285.44 430.60v1.80" stroke="#999999" stroke-width="0.90"/>
<path d="M235.75 502.01h1.80M322.12 502.01h-1.80" stroke="#999999" stroke-width="0.90"/>
<path d="M235.75 473.50h1.80M322.12 473.50h-1.80" stroke="#999999" stroke-width="0.90"/>
<path d="M235.75 444.99h1.80M322.12 444.99h-1.80" stroke="#999999" stroke-width="0.90"/>
<rect x="322.125" y="430.600" width="86.375" height="85.800" fill="none" stroke="#bcbcbc" stroke-width="1.10"/>
<path d="M349.67 516.40v-1.80M349.67 430.60v1.80" stroke="#999999" stroke-width="0.90"/>
<path d="M393.67 516.40v-1.80M393.67 430.60v1.80" stroke="#999999" stroke-width="0.90"/>
<path d="M322.12 502.01h1.80M408.50 502.01h-1.80" stroke="#999999" stroke-width="0.90"/>
<path d="M322.12 473.50h1.80M408.50 473.50h-1.80" stroke="#999999" stroke-width="0.90"/>
<path d="M322.12 444.99h1.80M408.50 444.99h-1.80" stroke="#999999" stroke-width="0.90"/>
<rect x="408.500" y="430.600" width="86.375" height="85.800" fill="none" stroke="#bcbcbc" stroke-width="1.10"/>
<path d="M408.29 516.40v-1.80M408.29 430.60v1.80" stroke="#999999" stroke-width="0.90"/>
<path d="M439.29 516.40v-1.80M439.29 430.60v1.80" stroke="#999999" stroke-width="0.90"/>
<path d="M470.29 516.40v-1.80M470.29 430.60v1.80" stroke="#999999" stroke-width="0.90"/>
<path d="M408.50 502.01h1.80M494.88 502.01h-1.80" stroke="#999999" stroke-width="0.90"/>
<path d="M408.50 473.50h1.80M494.88 473.50h-1.80" stroke="#999999" stroke-width="0.90"/>
<path d="M408.50 444.99h1.80M494.88 444.99h-1.80" stroke="#999999" stroke-width="0.90"/>
<rect x="494.875" y="430.600" width="86.375" height="85.800" fill="none" stroke="#bcbcbc" stroke-width="1.10"/>
<path d="M509.36 516.40v-1.80M509.36 430.60v1.80" stroke="#999999" stroke-width="0.90"/>
<path d="M538.06 516.40v-1.80M538.06 430.60v1.80" stroke="#999999" stroke-width="0.90"/>
<path d="M566.76 516.40v-1.80M566.76 430.60v1.80" stroke="#999999" stroke-width="0.90"/>
<rect x="63.000" y="516.400" width="86.375" height="85.800" fill="none" stroke="#bcbcbc" stroke-width="1.10"/>
<path d="M87.83 602.20v-1.80M87.83 516.40v1.80" stroke="#999999" stroke-width="0.90"/>
<path d="M141.83 602.20v-1.80M141.83 516.40v1.80" stroke="#999999" stroke-width="0.90"/>
<path d="M63.00 590.09h1.80M149.38 590.09h-1.80" stroke="#999999" stroke-width="0.90"/>
<path d="M63.00 559.30h1.80M149.38 559.30h-1.80" stroke="#999999" stroke-width="0.90"/>
<path d="M63.00 528.51h1.80M149.38 528.51h-1.80" stroke="#999999" stroke-width="0.90"/>
<rect x="149.375" y="516.400" width="86.375" height="85.800" fill="none" stroke="#bcbcbc" stroke-width="1.10"/>
<path d="M180.07 602.20v-1.80M180.07 516.40v1.80" stroke="#999999" stroke-width="0.90"/>
<path d="M215.77 602.20v-1.80M215.77 516.40v1.80" stroke="#999999" stroke-width="0.90"/>
<path d="M149.38 590.09h1.80M235.75 590.09h-1.80" stroke="#999999" stroke-width="0.90"/>
<path d="M149.38 559.30h1.80M235.75 559.30h-1.80" stroke="#999999" stroke-width="0.90"/>
<path d="M149.38 528.51h1.80M235.75 528.51h-1.80" stroke="#999999" stroke-width="0.90"/>
<rect x="235.750" y="516.400" width="86.375" height="85.800" fill="none" stroke="#bcbcbc" stroke-width="1.10"/>
<path d="M242.21 602.20v-1.80M242.21 516.40v1.80" stroke="#999999" stroke-width="0.90"/>
<path d="M285.44 602.20v-1.80M285.44 516.40v1.80" stroke="#999999" stroke-width="0.90"/>
<path d="M235.75 590.09h1.80M322.12 590.09h-1.80" stroke="#999999" stroke-width="0.90"/>
<path d="M235.75 559.30h1.80M322.12 559.30h-1.80" stroke="#999999" stroke-width="0.90"/>
<path d="M235.75 528.51h1.80M322.12 528.51h-1.80" stroke="#999999" stroke-width="0.90"/>
<rect x="322.125" y="516.400" width="86.375" height="85.800" fill="none" stroke="#bcbcbc" stroke-width="1.10"/>
<path d="M349.67 602.20v-1.80M349.67 516.40v1.80" stroke="#999999" stroke-width="0.90"/>
<path d="M393.67 602.20v-1.80M393.67 516.40v1.80" stroke="#999999" stroke-width="0.90"/>
<path d="M322.12 590.09h1.80M408.50 590.09h-1.80" stroke="#999999" stroke-width="0.90"/>
<path d="M322.12 559.30h1.80M408.50 559.30h-1.80" stroke="#999999" stroke-width="0.90"/>
<path d="M322.12 528.51h1.80M408.50 528.51h-1.80" stroke="#999999" stroke-width="0.90"/>
<rect x="408.500" y="516.400" width="86.375" height="85.800" fill="none" stroke="#bcbcbc" stroke-width="1.10"/>
<path d="M408.29 602.20v-1.80M408.29 516.40v1.80" stroke="#999999" stroke-width="0.90"/>
<path d="M439.29 602.20v-1.80M439.29 516.40v1.80" stroke="#999999" stroke-width="0.90"/>
<path d="M470.29 602.20v-1.80M470.29 516.40v1.80" stroke="#999999" stroke-width="0.90"/>
<path d="M408.50 590.09h1.80M494.88 590.09h-1.80" stroke="#999999" stroke-width="0.90"/>
<path d="M408.50 559.30h1.80M494.88 559.30h-1.80" stroke="#999999" stroke-width="0.90"/>
<path d="M408.50 528.51h1.80M494.88 528.51h-1.80" stroke="#999999" stroke-width="0.90"/>
<rect x="494.875" y="516.400" width="86.375" height="85.800" fill="none" stroke="#bcbcbc" stroke-width="1.10"/>
<path d="M509.36 602.20v-1.80M509.36 516.40v1.80" stroke="#999999" stroke-width="0.90"/>
<path d="M538.06 602.20v-1.80M538.06 516.40v1.80" stroke="#999999" stroke-width="0.90"/>
<path d="M566.76 602.20v-1.80M566.76 516.40v1.80" stroke="#999999" stroke-width="0.90"/>
<path d="M494.88 590.09h1.80M581.25 590.09h-1.80" stroke="#999999" stroke-width="0.90"/>
<path d="M494.88 559.30h1.80M581.25 559.30h-1.80" stroke="#999999" stroke-width="0.90"/>
<path d="M494.88 528.51h1.80M581.25 528.51h-1.80" stroke="#999999" stroke-width="0.90"/>
<rect x="581.250" y="516.400" width="86.375" height="85.800" fill="none" stroke="#bcbcbc" stroke-width="1.10"/>
<path d="M593.44 602.20v-1.80M593.44 516.40v1.80" stroke="#999999" stroke-width="0.90"/>
<path d="M624.44 602.20v-1.80M624.44 516.40v1.80" stroke="#999999" stroke-width="0.90"/>
<path d="M655.44 602.20v-1.80M655.44 516.40v1.80" stroke="#999999" stroke-width="0.90"/>
<rect x="63.000" y="602.200" width="86.375" height="85.800" fill="none" stroke="#bcbcbc" stroke-width="1.10"/>
<path d="M87.83 688.00v-1.80M87.83 602.20v1.80" stroke="#999999" stroke-width="0.90"/>
<path d="M141.83 688.00v-1.80M141.83 602.20v1.80" stroke="#999999" stroke-width="0.90"/>
<path d="M63.00 676.33h1.80M149.38 676.33h-1.80" stroke="#999999" stroke-width="0.90"/>
<path d="M63.00 645.10h1.80M149.38 645.10h-1.80" stroke="#999999" stroke-width="0.90"/>
<path d="M63.00 613.87h1.80M149.38 613.87h-1.80" stroke="#999999" stroke-width="0.90"/>
<rect x="149.375" y="602.200" width="86.375" height="85.800" fill="none" stroke="#bcbcbc" stroke-width="1.10"/>
<path d="M180.07 688.00v-1.80M180.07 602.20v1.80" stroke="#999999" stroke-width="0.90"/>
<path d="M215.77 688.00v-1.80M215.77 602.20v1.80" stroke="#999999" stroke-width="0.90"/>
<path d="M149.38 676.33h1.80M235.75 676.33h-1.80" stroke="#999999" stroke-width="0.90"/>
<path d="M149.38 645.10h1.80M235.75 645.10h-1.80" stroke="#999999" stroke-width="0.90"/>
<path d="M149.38 613.87h1.80M235.75 613.87h-1.80" stroke="#999999" stroke-width="0.90"/>
<rect x="235.750" y="602.200" width="86.375" height="85.800" fill="none" stroke="#bcbcbc" stroke-width="1.10"/>
<path d="M242.21 688.00v-1.80M242.21 602.20v1.80" stroke="#999999" stroke-width="0.90"/>
<path d="M285.44 688.00v-1.80M285.44 602.20v1.80" stroke="#999999" stroke-width="0.90"/>
<path d="M235.75 676.33h1.80M322.12 676.33h-1.80" stroke="#999999" stroke-width="0.90"/>
<path d="M235.75 645.10h1.80M322.12 645.10h-1.80" stroke="#999999" stroke-width="0.90"/>
<path d="M235.75 613.87h1.80M322.12 613.87h-1.80" stroke="#999999" stroke-width="0.90"/>
<rect x="322.125" y="602.200" width="86.375" height="85.800" fill="none" stroke="#bcbcbc" stroke-width="1.10"/>
<path d="M349.67 688.00v-1.80M349.67 602.20v1.80" stroke="#999999" stroke-width="0.90"/>
<path d="M393.67 688.00v-1.80M393.67 602.20v1.80" stroke="#999999" stroke-width="0.90"/>
<path d="M322.12 676.33h1.80M408.50 676.33h-1.80" stroke="#999999" stroke-width="0.90"/>
<path d="M322.12 645.10h1.80M408.50 645.10h-1.80" stroke="#999999" stroke-width="0.90"/>
<path d="M322.12 613.87h1.80M408.50 613.87h-1.80" stroke="#999999" stroke-width="0.90"/>
<rect x="408.500" y="602.200" width="86.375" height="85.800" fill="none" stroke="#bcbcbc" stroke-width="1.10"/>
<path d="M408.29 688.00v-1.80M408.29 602.20v1.80" stroke="#999999" stroke-width="0.90"/>
<path d="M439.29 688.00v-1.80M439.29 602.20v1.80" stroke="#999999" stroke-width="0.90"/>
<path d="M470.29 688.00v-1.80M470.29 602.20v1.80" stroke="#999999" stroke-width="0.90"/>
<path d="M408.50 676.33h1.80M494.88 676.33h-1.80" stroke="#999999" stroke-width="0.90"/>
<path d="M408.50 645.10h1.80M494.88 645.10h-1.80" stroke="#999999" stroke-width="0.90"/>
<path d="M408.50 613.87h1.80M494.88 613.87h-1.80" stroke="#999999" stroke-width="0.90"/>
<rect x="494.875" y="602.200" width="86.375" height="85.800" fill="none" stroke="#bcbcbc" stroke-width="1.10"/>
<path d="M509.36 688.00v-1.80M509.36 602.20v1.80" stroke="#999999" stroke-width="0.90"/>
<path d="M538.06 688.00v-1.80M538.06 602.20v1.80" stroke="#999999" stroke-width="0.90"/>
<path d="M566.76 688.00v-1.80M566.76 602.20v1.80" stroke="#999999" stroke-width="0.90"/>
<path d="M494.88 676.33h1.80M581.25 676.33h-1.80" stroke="#999999" stroke-width="0.90"/>
<path d="M494.88 645.10h1.80M581.25 645.10h-1.80" stroke="#999999" stroke-width="0.90"/>
<path d="M494.88 613.87h1.80M581.25 613.87h-1.80" stroke="#999999" stroke-width="0.90"/>
<rect x="581.250" y="602.200" width="86.375" height="85.800" fill="none" stroke="#bcbcbc" stroke-width="1.10"/>
<path d="M593.44 688.00v-1.80M593.44 602.20v1.80" stroke="#999999" stroke-width="0.90"/>
<path d="M624.44 688.00v-1.80M624.44 602.20v1.80" stroke="#999999" stroke-width="0.90"/>
<path d="M655.44 688.00v-1.80M655.44 602.20v1.80" stroke="#999999" stroke-width="0.90"/>
<path d="M581.25 676.33h1.80M667.62 676.33h-1.80" stroke="#999999" stroke-width="0.90"/>
<path d="M581.25 645.10h1.80M667.62 645.10h-1.80" stroke="#999999" stroke-width="0.90"/>
<path d="M581.25 613.87h1.80M667.62 613.87h-1.80" stroke="#999999" stroke-width="0.90"/>
<rect x="667.625" y="602.200" width="86.375" height="85.800" fill="none" stroke="#bcbcbc" stroke-width="1.10"/>
<path d="M671.51 688.00v-1.80M671.51 602.20v1.80" stroke="#999999" stroke-width="0.90"/>
<path d="M710.81 688.00v-1.80M710.81 602.20v1.80" stroke="#999999" stroke-width="0.90"/>
<path d="M750.11 688.00v-1.80M750.11 602.20v1.80" stroke="#999999" stroke-width="0.90"/>
<g clip-path="url(#d0)">
<polyline points="63.00,87.06 63.36,87.03 63.72,86.99 64.08,86.95 64.44,86.91 64.80,86.87 65.16,86.82 65.52,86.77 65.88,86.71 66.24,86.65 66.60,86.59 66.96,86.52 67.32,86.44 67.68,86.36 68.04,86.28 68.40,86.18 68.76,86.08 69.12,85.98 69.48,85.86 69.84,85.74 70.20,85.61 70.56,85.47 70.92,85.32 71.28,85.16 71.64,84.99 72.00,84.81 72.36,84.62 72.72,84.42 73.08,84.20 73.44,83.97 73.80,83.73 74.16,83.47 74.52,83.20 74.88,82.92 75.24,82.61 75.60,82.30 75.96,81.96 76.32,81.61 76.68,81.23 77.04,80.84 77.40,80.43 77.76,80.00 78.12,79.55 78.48,79.08 78.84,78.58 79.20,78.06 79.56,77.52 79.92,76.96 80.28,76.37 80.63,75.76 80.99,75.13 81.35,74.46 81.71,73.78 82.07,73.07 82.43,72.33 82.79,71.56 83.15,70.77 83.51,69.96 83.87,69.12 84.23,68.25 84.59,67.35 84.95,66.43 85.31,65.48 85.67,64.51 86.03,63.52 86.39,62.49 86.75,61.45 87.11,60.38 87.47,59.29 87.83,58.17 88.19,57.04 88.55,55.88 88.91,54.71 89.27,53.51 89.63,52.30 89.99,51.07 90.35,49.83 90.71,48.58 91.07,47.31 91.43,46.04 91.79,44.76 92.15,43.47 92.51,42.17 92.87,40.87 93.23,39.57 93.59,38.27 93.95,36.98 94.31,35.69 94.67,34.40 95.03,33.13 95.39,31.86 95.75,30.61 96.11,29.38 96.47,28.16 96.83,26.96 97.19,25.79 97.55,24.64 97.91,23.52 98.27,22.42 98.63,21.36 98.99,20.33 99.35,19.33 99.71,18.38 100.07,17.46 100.43,16.58 100.79,15.75 101.15,14.96 101.51,14.22 101.87,13.53 102.23,12.88 102.59,12.29 102.95,11.75 103.31,11.26 103.67,10.83 104.03,10.45 104.39,10.13 104.75,9.87 105.11,9.66 105.47,9.52 105.83,9.43 106.19,9.40 106.55,9.43 106.91,9.52 107.27,9.66 107.63,9.87 107.99,10.13 108.35,10.45 108.71,10.83 109.07,11.26 109.43,11.75 109.79,12.29 110.15,12.88 110.51,13.53 110.87,14.22 111.23,14.96 111.59,15.75 111.95,16.58 112.31,17.46 112.67,18.38 113.03,19.33 113.39,20.33 113.75,21.36 114.11,22.42 114.47,23.52 114.83,24.64 115.18,25.79 115.54,26.96 115.90,28.16 116.26,29.38 116.62,30.61 116.98,31.86 117.34,33.13 117.70,34.40 118.06,35.69 118.42,36.98 118.78,38.27 119.14,39.57 119.50,40.87 119.86,42.17 120.22,43.47 120.58,44.76 120.94,46.04 121.30,47.31 121.66,48.58 122.02,49.83 122.38,51.07 122.74,52.30 123.10,53.51 123.46,54.71 123.82,55.88 124.18,57.04 124.54,58.17 124.90,59.29 125.26,60.38 125.62,61.45 125.98,62.49 126.34,63.52 126.70,64.51 127.06,65.48 127.42,66.43 127.78,67.35 128.14,68.25 128.50,69.12 128.86,69.96 129.22,70.77 129.58,71.56 129.94,72.33 130.30,73.07 130.66,73.78 131.02,74.46 131.38,75.13 131.74,75.76 132.10,76.37 132.46,76.96 132.82,77.52 133.18,78.06 133.54,78.58 133.90,79.08 134.26,79.55 134.62,80.00 134.98,80.43 135.34,80.84 135.70,81.23 136.06,81.61 136.42,81.96 136.78,82.30 137.14,82.61 137.50,82.92 137.86,83.20 138.22,83.47 138.58,83.73 138.94,83.97 139.30,84.20 139.66,84.42 140.02,84.62 140.38,84.81 140.74,84.99 141.10,85.16 141.46,85.32 141.82,85.47 142.18,85.61 142.54,85.74 142.90,85.86 143.26,85.98 143.62,86.08 143.98,86.18 144.34,86.28 144.70,86.36 145.06,86.44 145.42,86.52 145.78,86.59 146.14,86.65 146.50,86.71 146.86,86.77 147.22,86.82 147.58,86.87 147.94,86.91 148.30,86.95 148.66,86.99 149.02,87.03 149.38,87.06" fill="none" stroke="#78C3ED" stroke-opacity="0.80" stroke-width="1.45" stroke-linejoin="round"/>
<polyline points="63.00,87.40 63.36,87.40 63.72,87.40 64.08,87.40 64.44,87.40 64.80,87.40 65.16,87.40 65.52,87.40 65.88,87.40 66.24,87.40 66.60,87.40 66.96,87.40 67.32,87.40 67.68,87.40 68.04,87.40 68.40,87.40 68.76,87.40 69.12,87.40 69.48,87.40 69.84,87.40 70.20,87.40 70.56,87.40 70.92,87.40 71.28,87.40 71.64,87.40 72.00,87.40 72.36,87.40 72.72,87.40 73.08,87.40 73.44,87.40 73.80,87.40 74.16,87.40 74.52,87.40 74.88,87.40 75.24,87.40 75.60,87.40 75.96,87.40 76.32,87.40 76.68,87.40 77.04,87.40 77.40,87.40 77.76,87.40 78.12,87.39 78.48,87.39 78.84,87.39 79.20,87.39 79.56,87.39 79.92,87.38 80.28,87.38 80.63,87.37 80.99,87.37 81.35,87.36 81.71,87.35 82.07,87.34 82.43,87.32 82.79,87.30 83.15,87.28 83.51,87.25 83.87,87.22 84.23,87.18 84.59,87.14 84.95,87.08 85.31,87.02 85.67,86.94 86.03,86.85 86.39,86.75 86.75,86.62 87.11,86.48 87.47,86.32 87.83,86.12 88.19,85.90 88.55,85.65 88.91,85.36 89.27,85.03 89.63,84.65 89.99,84.23 90.35,83.75 90.71,83.21 91.07,82.60 91.43,81.93 91.79,81.19 92.15,80.36 92.51,79.45 92.87,78.45 93.23,77.35 93.59,76.16 93.95,74.86 94.31,73.46 94.67,71.95 95.03,70.33 95.39,68.60 95.75,66.76 96.11,64.82 96.47,62.77 96.83,60.61 97.19,58.36 97.55,56.03 97.91,53.61 98.27,51.11 98.63,48.56 98.99,45.96 99.35,43.32 99.71,40.67 100.07,38.01 100.43,35.36 100.79,32.75 101.15,30.19 101.51,27.69 101.87,25.28 102.23,22.98 102.59,20.81 102.95,18.78 103.31,16.91 103.67,15.21 104.03,13.72 104.39,12.42 104.75,11.35 105.11,10.50 105.47,9.89 105.83,9.52 106.19,9.40 106.55,9.52 106.91,9.89 107.27,10.50 107.63,11.35 107.99,12.42 108.35,13.72 108.71,15.21 109.07,16.91 109.43,18.78 109.79,20.81 110.15,22.98 110.51,25.28 110.87,27.69 111.23,30.19 111.59,32.75 111.95,35.36 112.31,38.01 112.67,40.67 113.03,43.32 113.39,45.96 113.75,48.56 114.11,51.11 114.47,53.61 114.83,56.03 115.18,58.36 115.54,60.61 115.90,62.77 116.26,64.82 116.62,66.76 116.98,68.60 117.34,70.33 117.70,71.95 118.06,73.46 118.42,74.86 118.78,76.16 119.14,77.35 119.50,78.45 119.86,79.45 120.22,80.36 120.58,81.19 120.94,81.93 121.30,82.60 121.66,83.21 122.02,83.75 122.38,84.23 122.74,84.65 123.10,85.03 123.46,85.36 123.82,85.65 124.18,85.90 124.54,86.12 124.90,86.32 125.26,86.48 125.62,86.62 125.98,86.75 126.34,86.85 126.70,86.94 127.06,87.02 127.42,87.08 127.78,87.14 128.14,87.18 128.50,87.22 128.86,87.25 129.22,87.28 129.58,87.30 129.94,87.32 130.30,87.34 130.66,87.35 131.02,87.36 131.38,87.37 131.74,87.37 132.10,87.38 132.46,87.38 132.82,87.39 133.18,87.39 133.54,87.39 133.90,87.39 134.26,87.39 134.62,87.40 134.98,87.40 135.34,87.40 135.70,87.40 136.06,87.40 136.42,87.40 136.78,87.40 137.14,87.40 137.50,87.40 137.86,87.40 138.22,87.40 138.58,87.40 138.94,87.40 139.30,87.40 139.66,87.40 140.02,87.40 140.38,87.40 140.74,87.40 141.10,87.40 141.46,87.40 141.82,87.40 142.18,87.40 142.54,87.40 142.90,87.40 143.26,87.40 143.62,87.40 143.98,87.40 144.34,87.40 144.70,87.40 145.06,87.40 145.42,87.40 145.78,87.40 146.14,87.40 146.50,87.40 146.86,87.40 147.22,87.40 147.58,87.40 147.94,87.40 148.30,87.40 148.66,87.40 149.02,87.40 149.38,87.40" fill="none" stroke="#DB6100" stroke-opacity="0.80" stroke-width="1.45" stroke-linejoin="round"/>
</g>
<g clip-path="url(#d1)">
<polyline points="149.38,171.34 149.73,171.22 150.09,171.09 150.45,170.96 150.81,170.82 151.17,170.68 151.53,170.52 151.89,170.36 152.25,170.19 152.61,170.01 152.97,169.82 153.33,169.62 153.69,169.42 154.05,169.20 154.41,168.97 154.77,168.73 155.13,168.48 155.49,168.22 155.85,167.95 156.21,167.67 156.57,167.37 156.93,167.06 157.29,166.74 157.65,166.41 158.01,166.06 158.37,165.70 158.73,165.32 159.09,164.93 159.45,164.52 159.81,164.10 160.17,163.66 160.53,163.21 160.89,162.74 161.25,162.25 161.61,161.75 161.97,161.23 162.33,160.69 162.69,160.14 163.05,159.57 163.41,158.98 163.77,158.37 164.13,157.75 164.49,157.11 164.85,156.45 165.21,155.77 165.57,155.07 165.93,154.36 166.29,153.63 166.65,152.87 167.01,152.11 167.37,151.32 167.73,150.52 168.09,149.70 168.45,148.86 168.81,148.00 169.17,147.13 169.53,146.25 169.89,145.34 170.25,144.43 170.61,143.49 170.97,142.55 171.33,141.58 171.69,140.61 172.05,139.62 172.41,138.62 172.77,137.61 173.13,136.59 173.49,135.56 173.85,134.52 174.21,133.48 174.57,132.42 174.93,131.36 175.29,130.29 175.65,129.22 176.01,128.15 176.37,127.07 176.73,126.00 177.09,124.92 177.45,123.84 177.81,122.77 178.17,121.70 178.53,120.63 178.89,119.57 179.25,118.52 179.61,117.47 179.97,116.44 180.33,115.41 180.69,114.40 181.05,113.40 181.41,112.41 181.77,111.44 182.13,110.49 182.49,109.56 182.85,108.64 183.21,107.75 183.57,106.87 183.93,106.03 184.28,105.20 184.64,104.40 185.00,103.63 185.36,102.89 185.72,102.17 186.08,101.49 186.44,100.83 186.80,100.21 187.16,99.62 187.52,99.07 187.88,98.55 188.24,98.06 188.60,97.61 188.96,97.20 189.32,96.82 189.68,96.48 190.04,96.19 190.40,95.93 190.76,95.70 191.12,95.52 191.48,95.38 191.84,95.28 192.20,95.22 192.56,95.20 192.92,95.22 193.28,95.28 193.64,95.38 194.00,95.52 194.36,95.70 194.72,95.93 195.08,96.19 195.44,96.48 195.80,96.82 196.16,97.20 196.52,97.61 196.88,98.06 197.24,98.55 197.60,99.07 197.96,99.62 198.32,100.21 198.68,100.83 199.04,101.49 199.40,102.17 199.76,102.89 200.12,103.63 200.48,104.40 200.84,105.20 201.20,106.03 201.56,106.87 201.92,107.75 202.28,108.64 202.64,109.56 203.00,110.49 203.36,111.44 203.72,112.41 204.08,113.40 204.44,114.40 204.80,115.41 205.16,116.44 205.52,117.47 205.88,118.52 206.24,119.57 206.60,120.63 206.96,121.70 207.32,122.77 207.68,123.84 208.04,124.92 208.40,126.00 208.76,127.07 209.12,128.15 209.48,129.22 209.84,130.29 210.20,131.36 210.56,132.42 210.92,133.48 211.28,134.52 211.64,135.56 212.00,136.59 212.36,137.61 212.72,138.62 213.08,139.62 213.44,140.61 213.80,141.58 214.16,142.55 214.52,143.49 214.88,144.43 215.24,145.34 215.60,146.25 215.96,147.13 216.32,148.00 216.68,148.86 217.04,149.70 217.40,150.52 217.76,151.32 218.12,152.11 218.47,152.87 218.83,153.63 219.19,154.36 219.55,155.07 219.91,155.77 220.27,156.45 220.63,157.11 220.99,157.75 221.35,158.37 221.71,158.98 222.07,159.57 222.43,160.14 222.79,160.69 223.15,161.23 223.51,161.75 223.87,162.25 224.23,162.74 224.59,163.21 224.95,163.66 225.31,164.10 225.67,164.52 226.03,164.93 226.39,165.32 226.75,165.70 227.11,166.06 227.47,166.41 227.83,166.74 228.19,167.06 228.55,167.37 228.91,167.67 229.27,167.95 229.63,168.22 229.99,168.48 230.35,168.73 230.71,168.97 231.07,169.20 231.43,169.42 231.79,169.62 232.15,169.82 232.51,170.01 232.87,170.19 233.23,170.36 233.59,170.52 233.95,170.68 234.31,170.82 234.67,170.96 235.03,171.09 235.39,171.22 235.75,171.34" fill="none" stroke="#78C3ED" stroke-opacity="0.80" stroke-width="1.45" stroke-linejoin="round"/>
<polyline points="149.38,172.86 149.73,172.83 150.09,172.79 150.45,172.75 150.81,172.71 151.17,172.67 151.53,172.62 151.89,172.57 152.25,172.51 152.61,172.45 152.97,172.39 153.33,172.32 153.69,172.24 154.05,172.16 154.41,172.08 154.77,171.98 155.13,171.88 155.49,171.78 155.85,171.66 156.21,171.54 156.57,171.41 156.93,171.27 157.29,171.12 157.65,170.96 158.01,170.79 158.37,170.61 158.73,170.42 159.09,170.22 159.45,170.00 159.81,169.77 160.17,169.53 160.53,169.27 160.89,169.00 161.25,168.72 161.61,168.41 161.97,168.10 162.33,167.76 162.69,167.41 163.05,167.03 163.41,166.64 163.77,166.23 164.13,165.80 164.49,165.35 164.85,164.88 165.21,164.38 165.57,163.86 165.93,163.32 166.29,162.76 166.65,162.17 167.01,161.56 167.37,160.93 167.73,160.26 168.09,159.58 168.45,158.87 168.81,158.13 169.17,157.36 169.53,156.57 169.89,155.76 170.25,154.92 170.61,154.05 170.97,153.15 171.33,152.23 171.69,151.28 172.05,150.31 172.41,149.32 172.77,148.29 173.13,147.25 173.49,146.18 173.85,145.09 174.21,143.97 174.57,142.84 174.93,141.68 175.29,140.51 175.65,139.31 176.01,138.10 176.37,136.87 176.73,135.63 177.09,134.38 177.45,133.11 177.81,131.84 178.17,130.56 178.53,129.27 178.89,127.97 179.25,126.67 179.61,125.37 179.97,124.07 180.33,122.78 180.69,121.49 181.05,120.20 181.41,118.93 181.77,117.66 182.13,116.41 182.49,115.18 182.85,113.96 183.21,112.76 183.57,111.59 183.93,110.44 184.28,109.32 184.64,108.22 185.00,107.16 185.36,106.13 185.72,105.13 186.08,104.18 186.44,103.26 186.80,102.38 187.16,101.55 187.52,100.76 187.88,100.02 188.24,99.33 188.60,98.68 188.96,98.09 189.32,97.55 189.68,97.06 190.04,96.63 190.40,96.25 190.76,95.93 191.12,95.67 191.48,95.46 191.84,95.32 192.20,95.23 192.56,95.20 192.92,95.23 193.28,95.32 193.64,95.46 194.00,95.67 194.36,95.93 194.72,96.25 195.08,96.63 195.44,97.06 195.80,97.55 196.16,98.09 196.52,98.68 196.88,99.33 197.24,100.02 197.60,100.76 197.96,101.55 198.32,102.38 198.68,103.26 199.04,104.18 199.40,105.13 199.76,106.13 200.12,107.16 200.48,108.22 200.84,109.32 201.20,110.44 201.56,111.59 201.92,112.76 202.28,113.96 202.64,115.18 203.00,116.41 203.36,117.66 203.72,118.93 204.08,120.20 204.44,121.49 204.80,122.78 205.16,124.07 205.52,125.37 205.88,126.67 206.24,127.97 206.60,129.27 206.96,130.56 207.32,131.84 207.68,133.11 208.04,134.38 208.40,135.63 208.76,136.87 209.12,138.10 209.48,139.31 209.84,140.51 210.20,141.68 210.56,142.84 210.92,143.97 211.28,145.09 211.64,146.18 212.00,147.25 212.36,148.29 212.72,149.32 213.08,150.31 213.44,151.28 213.80,152.23 214.16,153.15 214.52,154.05 214.88,154.92 215.24,155.76 215.60,156.57 215.96,157.36 216.32,158.13 216.68,158.87 217.04,159.58 217.40,160.26 217.76,160.93 218.12,161.56 218.47,162.17 218.83,162.76 219.19,163.32 219.55,163.86 219.91,164.38 220.27,164.88 220.63,165.35 220.99,165.80 221.35,166.23 221.71,166.64 222.07,167.03 222.43,167.41 222.79,167.76 223.15,168.10 223.51,168.41 223.87,168.72 224.23,169.00 224.59,169.27 224.95,169.53 225.31,169.77 225.67,170.00 226.03,170.22 226.39,170.42 226.75,170.61 227.11,170.79 227.47,170.96 227.83,171.12 228.19,171.27 228.55,171.41 228.91,171.54 229.27,171.66 229.63,171.78 229.99,171.88 230.35,171.98 230.71,172.08 231.07,172.16 231.43,172.24 231.79,172.32 232.15,172.39 232.51,172.45 232.87,172.51 233.23,172.57 233.59,172.62 233.95,172.67 234.31,172.71 234.67,172.75 235.03,172.79 235.39,172.83 235.75,172.86" fill="none" stroke="#DB6100" stroke-opacity="0.80" stroke-width="1.45" stroke-linejoin="round"/>
</g>
<g clip-path="url(#d2)">
<polyline points="235.75,258.66 236.11,258.63 236.47,258.59 236.83,258.55 237.19,258.51 237.55,258.47 237.91,258.42 238.27,258.37 238.63,258.31 238.99,258.25 239.35,258.19 239.71,258.12 240.07,258.04 240.43,257.96 240.79,257.88 241.15,257.78 241.51,257.68 241.87,257.58 242.23,257.46 242.59,257.34 242.95,257.21 243.31,257.07 243.67,256.92 244.03,256.76 244.39,256.59 244.75,256.41 245.11,256.22 245.47,256.02 245.83,255.80 246.19,255.57 246.55,255.33 246.91,255.07 247.27,254.80 247.63,254.52 247.99,254.21 248.35,253.90 248.71,253.56 249.07,253.21 249.43,252.83 249.79,252.44 250.15,252.03 250.51,251.60 250.87,251.15 251.23,250.68 251.59,250.18 251.95,249.66 252.31,249.12 252.67,248.56 253.03,247.97 253.38,247.36 253.74,246.73 254.10,246.06 254.46,245.38 254.82,244.67 255.18,243.93 255.54,243.16 255.90,242.37 256.26,241.56 256.62,240.72 256.98,239.85 257.34,238.95 257.70,238.03 258.06,237.08 258.42,236.11 258.78,235.12 259.14,234.09 259.50,233.05 259.86,231.98 260.22,230.89 260.58,229.77 260.94,228.64 261.30,227.48 261.66,226.31 262.02,225.11 262.38,223.90 262.74,222.67 263.10,221.43 263.46,220.18 263.82,218.91 264.18,217.64 264.54,216.36 264.90,215.07 265.26,213.77 265.62,212.47 265.98,211.17 266.34,209.87 266.70,208.58 267.06,207.29 267.42,206.00 267.78,204.73 268.14,203.46 268.50,202.21 268.86,200.98 269.22,199.76 269.58,198.56 269.94,197.39 270.30,196.24 270.66,195.12 271.02,194.02 271.38,192.96 271.74,191.93 272.10,190.93 272.46,189.98 272.82,189.06 273.18,188.18 273.54,187.35 273.90,186.56 274.26,185.82 274.62,185.13 274.98,184.48 275.34,183.89 275.70,183.35 276.06,182.86 276.42,182.43 276.78,182.05 277.14,181.73 277.50,181.47 277.86,181.26 278.22,181.12 278.58,181.03 278.94,181.00 279.30,181.03 279.66,181.12 280.02,181.26 280.38,181.47 280.74,181.73 281.10,182.05 281.46,182.43 281.82,182.86 282.18,183.35 282.54,183.89 282.90,184.48 283.26,185.13 283.62,185.82 283.98,186.56 284.34,187.35 284.70,188.18 285.06,189.06 285.42,189.98 285.78,190.93 286.14,191.93 286.50,192.96 286.86,194.02 287.22,195.12 287.57,196.24 287.93,197.39 288.29,198.56 288.65,199.76 289.01,200.98 289.37,202.21 289.73,203.46 290.09,204.73 290.45,206.00 290.81,207.29 291.17,208.58 291.53,209.87 291.89,211.17 292.25,212.47 292.61,213.77 292.97,215.07 293.33,216.36 293.69,217.64 294.05,218.91 294.41,220.18 294.77,221.43 295.13,222.67 295.49,223.90 295.85,225.11 296.21,226.31 296.57,227.48 296.93,228.64 297.29,229.77 297.65,230.89 298.01,231.98 298.37,233.05 298.73,234.09 299.09,235.12 299.45,236.11 299.81,237.08 300.17,238.03 300.53,238.95 300.89,239.85 301.25,240.72 301.61,241.56 301.97,242.37 302.33,243.16 302.69,243.93 303.05,244.67 303.41,245.38 303.77,246.06 304.13,246.73 304.49,247.36 304.85,247.97 305.21,248.56 305.57,249.12 305.93,249.66 306.29,250.18 306.65,250.68 307.01,251.15 307.37,251.60 307.73,252.03 308.09,252.44 308.45,252.83 308.81,253.21 309.17,253.56 309.53,253.90 309.89,254.21 310.25,254.52 310.61,254.80 310.97,255.07 311.33,255.33 311.69,255.57 312.05,255.80 312.41,256.02 312.77,256.22 313.13,256.41 313.49,256.59 313.85,256.76 314.21,256.92 314.57,257.07 314.93,257.21 315.29,257.34 315.65,257.46 316.01,257.58 316.37,257.68 316.73,257.78 317.09,257.88 317.45,257.96 317.81,258.04 318.17,258.12 318.53,258.19 318.89,258.25 319.25,258.31 319.61,258.37 319.97,258.42 320.33,258.47 320.69,258.51 321.05,258.55 321.41,258.59 321.77,258.63 322.12,258.66" fill="none" stroke="#78C3ED" stroke-opacity="0.80" stroke-width="1.45" stroke-linejoin="round"/>
<polyline points="235.75,258.66 236.11,258.63 236.47,258.59 236.83,258.55 237.19,258.51 237.55,258.47 237.91,258.42 238.27,258.37 238.63,258.31 238.99,258.25 239.35,258.19 239.71,258.12 240.07,258.04 240.43,257.96 240.79,257.88 241.15,257.78 241.51,257.68 241.87,257.58 242.23,257.46 242.59,257.34 242.95,257.21 243.31,257.07 243.67,256.92 244.03,256.76 244.39,256.59 244.75,256.41 245.11,256.22 245.47,256.02 245.83,255.80 246.19,255.57 246.55,255.33 246.91,255.07 247.27,254.80 247.63,254.52 247.99,254.21 248.35,253.90 248.71,253.56 249.07,253.21 249.43,252.83 249.79,252.44 250.15,252.03 250.51,251.60 250.87,251.15 251.23,250.68 251.59,250.18 251.95,249.66 252.31,249.12 252.67,248.56 253.03,247.97 253.38,247.36 253.74,246.73 254.10,246.06 254.46,245.38 254.82,244.67 255.18,243.93 255.54,243.16 255.90,242.37 256.26,241.56 256.62,240.72 256.98,239.85 257.34,238.95 257.70,238.03 258.06,237.08 258.42,236.11 258.78,235.12 259.14,234.09 259.50,233.05 259.86,231.98 260.22,230.89 260.58,229.77 260.94,228.64 261.30,227.48 261.66,226.31 262.02,225.11 262.38,223.90 262.74,222.67 263.10,221.43 263.46,220.18 263.82,218.91 264.18,217.64 264.54,216.36 264.90,215.07 265.26,213.77 265.62,212.47 265.98,211.17 266.34,209.87 266.70,208.58 267.06,207.29 267.42,206.00 267.78,204.73 268.14,203.46 268.50,202.21 268.86,200.98 269.22,199.76 269.58,198.56 269.94,197.39 270.30,196.24 270.66,195.12 271.02,194.02 271.38,192.96 271.74,191.93 272.10,190.93 272.46,189.98 272.82,189.06 273.18,188.18 273.54,187.35 273.90,186.56 274.26,185.82 274.62,185.13 274.98,184.48 275.34,183.89 275.70,183.35 276.06,182.86 276.42,182.43 276.78,182.05 277.14,181.73 277.50,181.47 277.86,181.26 278.22,181.12 278.58,181.03 278.94,181.00 279.30,181.03 279.66,181.12 280.02,181.26 280.38,181.47 280.74,181.73 281.10,182.05 281.46,182.43 281.82,182.86 282.18,183.35 282.54,183.89 282.90,184.48 283.26,185.13 283.62,185.82 283.98,186.56 284.34,187.35 284.70,188.18 285.06,189.06 285.42,189.98 285.78,190.93 286.14,191.93 286.50,192.96 286.86,194.02 287.22,195.12 287.57,196.24 287.93,197.39 288.29,198.56 288.65,199.76 289.01,200.98 289.37,202.21 289.73,203.46 290.09,204.73 290.45,206.00 290.81,207.29 291.17,208.58 291.53,209.87 291.89,211.17 292.25,212.47 292.61,213.77 292.97,215.07 293.33,216.36 293.69,217.64 294.05,218.91 294.41,220.18 294.77,221.43 295.13,222.67 295.49,223.90 295.85,225.11 296.21,226.31 296.57,227.48 296.93,228.64 297.29,229.77 297.65,230.89 298.01,231.98 298.37,233.05 298.73,234.09 299.09,235.12 299.45,236.11 299.81,237.08 300.17,238.03 300.53,238.95 300.89,239.85 301.25,240.72 301.61,241.56 301.97,242.37 302.33,243.16 302.69,243.93 303.05,244.67 303.41,245.38 303.77,246.06 304.13,246.73 304.49,247.36 304.85,247.97 305.21,248.56 305.57,249.12 305.93,249.66 306.29,250.18 306.65,250.68 307.01,251.15 307.37,251.60 307.73,252.03 308.09,252.44 308.45,252.83 308.81,253.21 309.17,253.56 309.53,253.90 309.89,254.21 310.25,254.52 310.61,254.80 310.97,255.07 311.33,255.33 311.69,255.57 312.05,255.80 312.41,256.02 312.77,256.22 313.13,256.41 313.49,256.59 313.85,256.76 314.21,256.92 314.57,257.07 314.93,257.21 315.29,257.34 315.65,257.46 316.01,257.58 316.37,257.68 316.73,257.78 317.09,257.88 317.45,257.96 317.81,258.04 318.17,258.12 318.53,258.19 318.89,258.25 319.25,258.31 319.61,258.37 319.97,258.42 320.33,258.47 320.69,258.51 321.05,258.55 321.41,258.59 321.77,258.63 322.12,258.66" fill="none" stroke="#DB6100" stroke-opacity="0.80" stroke-width="1.45" stroke-linejoin="round"/>
</g>
<g clip-path="url(#d3)">
<polyline points="322.12,342.94 322.48,342.82 322.84,342.69 323.20,342.56 323.56,342.42 323.92,342.28 324.28,342.12 324.64,341.96 325.00,341.79 325.36,341.61 325.72,341.42 326.08,341.22 326.44,341.02 326.80,340.80 327.16,340.57 327.52,340.33 327.88,340.08 328.24,339.82 328.60,339.55 328.96,339.27 329.32,338.97 329.68,338.66 330.04,338.34 330.40,338.01 330.76,337.66 331.12,337.30 331.48,336.92 331.84,336.53 332.20,336.12 332.56,335.70 332.92,335.26 333.28,334.81 333.64,334.34 334.00,333.85 334.36,333.35 334.72,332.83 335.08,332.29 335.44,331.74 335.80,331.17 336.16,330.58 336.52,329.97 336.88,329.35 337.24,328.71 337.60,328.05 337.96,327.37 338.32,326.67 338.68,325.96 339.04,325.23 339.40,324.47 339.76,323.71 340.12,322.92 340.48,322.12 340.84,321.30 341.20,320.46 341.56,319.60 341.92,318.73 342.28,317.85 342.64,316.94 343.00,316.03 343.36,315.09 343.72,314.15 344.08,313.18 344.44,312.21 344.80,311.22 345.16,310.22 345.52,309.21 345.88,308.19 346.24,307.16 346.60,306.12 346.96,305.08 347.32,304.02 347.68,302.96 348.04,301.89 348.40,300.82 348.76,299.75 349.12,298.67 349.48,297.60 349.84,296.52 350.20,295.44 350.56,294.37 350.92,293.30 351.28,292.23 351.64,291.17 352.00,290.12 352.36,289.07 352.72,288.04 353.08,287.01 353.44,286.00 353.80,285.00 354.16,284.01 354.52,283.04 354.88,282.09 355.24,281.16 355.60,280.24 355.96,279.35 356.32,278.47 356.68,277.63 357.03,276.80 357.39,276.00 357.75,275.23 358.11,274.49 358.47,273.77 358.83,273.09 359.19,272.43 359.55,271.81 359.91,271.22 360.27,270.67 360.63,270.15 360.99,269.66 361.35,269.21 361.71,268.80 362.07,268.42 362.43,268.08 362.79,267.79 363.15,267.53 363.51,267.30 363.87,267.12 364.23,266.98 364.59,266.88 364.95,266.82 365.31,266.80 365.67,266.82 366.03,266.88 366.39,266.98 366.75,267.12 367.11,267.30 367.47,267.53 367.83,267.79 368.19,268.08 368.55,268.42 368.91,268.80 369.27,269.21 369.63,269.66 369.99,270.15 370.35,270.67 370.71,271.22 371.07,271.81 371.43,272.43 371.79,273.09 372.15,273.77 372.51,274.49 372.87,275.23 373.23,276.00 373.59,276.80 373.95,277.63 374.31,278.47 374.67,279.35 375.03,280.24 375.39,281.16 375.75,282.09 376.11,283.04 376.47,284.01 376.83,285.00 377.19,286.00 377.55,287.01 377.91,288.04 378.27,289.07 378.63,290.12 378.99,291.17 379.35,292.23 379.71,293.30 380.07,294.37 380.43,295.44 380.79,296.52 381.15,297.60 381.51,298.67 381.87,299.75 382.23,300.82 382.59,301.89 382.95,302.96 383.31,304.02 383.67,305.08 384.03,306.12 384.39,307.16 384.75,308.19 385.11,309.21 385.47,310.22 385.83,311.22 386.19,312.21 386.55,313.18 386.91,314.15 387.27,315.09 387.63,316.03 387.99,316.94 388.35,317.85 388.71,318.73 389.07,319.60 389.43,320.46 389.79,321.30 390.15,322.12 390.51,322.92 390.87,323.71 391.23,324.47 391.58,325.23 391.94,325.96 392.30,326.67 392.66,327.37 393.02,328.05 393.38,328.71 393.74,329.35 394.10,329.97 394.46,330.58 394.82,331.17 395.18,331.74 395.54,332.29 395.90,332.83 396.26,333.35 396.62,333.85 396.98,334.34 397.34,334.81 397.70,335.26 398.06,335.70 398.42,336.12 398.78,336.53 399.14,336.92 399.50,337.30 399.86,337.66 400.22,338.01 400.58,338.34 400.94,338.66 401.30,338.97 401.66,339.27 402.02,339.55 402.38,339.82 402.74,340.08 403.10,340.33 403.46,340.57 403.82,340.80 404.18,341.02 404.54,341.22 404.90,341.42 405.26,341.61 405.62,341.79 405.98,341.96 406.34,342.12 406.70,342.28 407.06,342.42 407.42,342.56 407.78,342.69 408.14,342.82 408.50,342.94" fill="none" stroke="#78C3ED" stroke-opacity="0.80" stroke-width="1.45" stroke-linejoin="round"/>
<polyline points="322.12,342.94 322.48,342.82 322.84,342.69 323.20,342.56 323.56,342.42 323.92,342.28 324.28,342.12 324.64,341.96 325.00,341.79 325.36,341.61 325.72,341.42 326.08,341.22 326.44,341.02 326.80,340.80 327.16,340.57 327.52,340.33 327.88,340.08 328.24,339.82 328.60,339.55 328.96,339.27 329.32,338.97 329.68,338.66 330.04,338.34 330.40,338.01 330.76,337.66 331.12,337.30 331.48,336.92 331.84,336.53 332.20,336.12 332.56,335.70 332.92,335.26 333.28,334.81 333.64,334.34 334.00,333.85 334.36,333.35 334.72,332.83 335.08,332.29 335.44,331.74 335.80,331.17 336.16,330.58 336.52,329.97 336.88,329.35 337.24,328.71 337.60,328.05 337.96,327.37 338.32,326.67 338.68,325.96 339.04,325.23 339.40,324.47 339.76,323.71 340.12,322.92 340.48,322.12 340.84,321.30 341.20,320.46 341.56,319.60 341.92,318.73 342.28,317.85 342.64,316.94 343.00,316.03 343.36,315.09 343.72,314.15 344.08,313.18 344.44,312.21 344.80,311.22 345.16,310.22 345.52,309.21 345.88,308.19 346.24,307.16 346.60,306.12 346.96,305.08 347.32,304.02 347.68,302.96 348.04,301.89 348.40,300.82 348.76,299.75 349.12,298.67 349.48,297.60 349.84,296.52 350.20,295.44 350.56,294.37 350.92,293.30 351.28,292.23 351.64,291.17 352.00,290.12 352.36,289.07 352.72,288.04 353.08,287.01 353.44,286.00 353.80,285.00 354.16,284.01 354.52,283.04 354.88,282.09 355.24,281.16 355.60,280.24 355.96,279.35 356.32,278.47 356.68,277.63 357.03,276.80 357.39,276.00 357.75,275.23 358.11,274.49 358.47,273.77 358.83,273.09 359.19,272.43 359.55,271.81 359.91,271.22 360.27,270.67 360.63,270.15 360.99,269.66 361.35,269.21 361.71,268.80 362.07,268.42 362.43,268.08 362.79,267.79 363.15,267.53 363.51,267.30 363.87,267.12 364.23,266.98 364.59,266.88 364.95,266.82 365.31,266.80 365.67,266.82 366.03,266.88 366.39,266.98 366.75,267.12 367.11,267.30 367.47,267.53 367.83,267.79 368.19,268.08 368.55,268.42 368.91,268.80 369.27,269.21 369.63,269.66 369.99,270.15 370.35,270.67 370.71,271.22 371.07,271.81 371.43,272.43 371.79,273.09 372.15,273.77 372.51,274.49 372.87,275.23 373.23,276.00 373.59,276.80 373.95,277.63 374.31,278.47 374.67,279.35 375.03,280.24 375.39,281.16 375.75,282.09 376.11,283.04 376.47,284.01 376.83,285.00 377.19,286.00 377.55,287.01 377.91,288.04 378.27,289.07 378.63,290.12 378.99,291.17 379.35,292.23 379.71,293.30 380.07,294.37 380.43,295.44 380.79,296.52 381.15,297.60 381.51,298.67 381.87,299.75 382.23,300.82 382.59,301.89 382.95,302.96 383.31,304.02 383.67,305.08 384.03,306.12 384.39,307.16 384.75,308.19 385.11,309.21 385.47,310.22 385.83,311.22 386.19,312.21 386.55,313.18 386.91,314.15 387.27,315.09 387.63,316.03 387.99,316.94 388.35,317.85 388.71,318.73 389.07,319.60 389.43,320.46 389.79,321.30 390.15,322.12 390.51,322.92 390.87,323.71 391.23,324.47 391.58,325.23 391.94,325.96 392.30,326.67 392.66,327.37 393.02,328.05 393.38,328.71 393.74,329.35 394.10,329.97 394.46,330.58 394.82,331.17 395.18,331.74 395.54,332.29 395.90,332.83 396.26,333.35 396.62,333.85 396.98,334.34 397.34,334.81 397.70,335.26 398.06,335.70 398.42,336.12 398.78,336.53 399.14,336.92 399.50,337.30 399.86,337.66 400.22,338.01 400.58,338.34 400.94,338.66 401.30,338.97 401.66,339.27 402.02,339.55 402.38,339.82 402.74,340.08 403.10,340.33 403.46,340.57 403.82,340.80 404.18,341.02 404.54,341.22 404.90,341.42 405.26,341.61 405.62,341.79 405.98,341.96 406.34,342.12 406.70,342.28 407.06,342.42 407.42,342.56 407.78,342.69 408.14,342.82 408.50,342.94" fill="none" stroke="#DB6100" stroke-opacity="0.80" stroke-width="1.45" stroke-linejoin="round"/>
</g>
<g clip-path="url(#d4)">
<polyline points="408.50,429.32 408.86,429.23 409.22,429.14 409.58,429.03 409.94,428.93 410.30,428.81 410.66,428.69 411.02,428.56 411.38,428.43 411.74,428.29 412.10,428.14 412.46,427.98 412.82,427.81 413.18,427.63 413.54,427.45 413.90,427.25 414.26,427.05 414.62,426.83 414.98,426.60 415.34,426.36 415.70,426.11 416.06,425.85 416.42,425.58 416.78,425.29 417.14,424.99 417.50,424.67 417.86,424.34 418.22,424.00 418.58,423.64 418.94,423.27 419.30,422.88 419.66,422.48 420.02,422.05 420.38,421.62 420.74,421.16 421.10,420.69 421.46,420.20 421.82,419.69 422.18,419.16 422.54,418.62 422.90,418.06 423.26,417.47 423.62,416.87 423.98,416.25 424.34,415.61 424.70,414.95 425.06,414.27 425.42,413.57 425.77,412.85 426.13,412.11 426.49,411.35 426.85,410.57 427.21,409.77 427.57,408.95 427.93,408.11 428.29,407.26 428.65,406.38 429.01,405.49 429.37,404.57 429.73,403.64 430.09,402.70 430.45,401.73 430.81,400.75 431.17,399.75 431.53,398.74 431.89,397.72 432.25,396.68 432.61,395.63 432.97,394.56 433.33,393.49 433.69,392.40 434.05,391.30 434.41,390.20 434.77,389.09 435.13,387.97 435.49,386.85 435.85,385.72 436.21,384.60 436.57,383.47 436.93,382.33 437.29,381.21 437.65,380.08 438.01,378.96 438.37,377.84 438.73,376.73 439.09,375.62 439.45,374.53 439.81,373.45 440.17,372.38 440.53,371.32 440.89,370.28 441.25,369.25 441.61,368.25 441.97,367.26 442.33,366.29 442.69,365.35 443.05,364.43 443.41,363.54 443.77,362.67 444.13,361.83 444.49,361.02 444.85,360.24 445.21,359.49 445.57,358.78 445.93,358.10 446.29,357.45 446.65,356.85 447.01,356.27 447.37,355.74 447.73,355.25 448.09,354.80 448.45,354.38 448.81,354.01 449.17,353.68 449.53,353.40 449.89,353.15 450.25,352.96 450.61,352.80 450.97,352.69 451.33,352.62 451.69,352.60 452.05,352.62 452.41,352.69 452.77,352.80 453.13,352.96 453.49,353.15 453.85,353.40 454.21,353.68 454.57,354.01 454.93,354.38 455.29,354.80 455.65,355.25 456.01,355.74 456.37,356.27 456.73,356.85 457.09,357.45 457.45,358.10 457.81,358.78 458.17,359.49 458.53,360.24 458.89,361.02 459.25,361.83 459.61,362.67 459.97,363.54 460.32,364.43 460.68,365.35 461.04,366.29 461.40,367.26 461.76,368.25 462.12,369.25 462.48,370.28 462.84,371.32 463.20,372.38 463.56,373.45 463.92,374.53 464.28,375.62 464.64,376.73 465.00,377.84 465.36,378.96 465.72,380.08 466.08,381.21 466.44,382.33 466.80,383.47 467.16,384.60 467.52,385.72 467.88,386.85 468.24,387.97 468.60,389.09 468.96,390.20 469.32,391.30 469.68,392.40 470.04,393.49 470.40,394.56 470.76,395.63 471.12,396.68 471.48,397.72 471.84,398.74 472.20,399.75 472.56,400.75 472.92,401.73 473.28,402.70 473.64,403.64 474.00,404.57 474.36,405.49 474.72,406.38 475.08,407.26 475.44,408.11 475.80,408.95 476.16,409.77 476.52,410.57 476.88,411.35 477.24,412.11 477.60,412.85 477.96,413.57 478.32,414.27 478.68,414.95 479.04,415.61 479.40,416.25 479.76,416.87 480.12,417.47 480.48,418.06 480.84,418.62 481.20,419.16 481.56,419.69 481.92,420.20 482.28,420.69 482.64,421.16 483.00,421.62 483.36,422.05 483.72,422.48 484.08,422.88 484.44,423.27 484.80,423.64 485.16,424.00 485.52,424.34 485.88,424.67 486.24,424.99 486.60,425.29 486.96,425.58 487.32,425.85 487.68,426.11 488.04,426.36 488.40,426.60 488.76,426.83 489.12,427.05 489.48,427.25 489.84,427.45 490.20,427.63 490.56,427.81 490.92,427.98 491.28,428.14 491.64,428.29 492.00,428.43 492.36,428.56 492.72,428.69 493.08,428.81 493.44,428.93 493.80,429.03 494.16,429.14 494.52,429.23 494.88,429.32" fill="none" stroke="#78C3ED" stroke-opacity="0.80" stroke-width="1.45" stroke-linejoin="round"/>
<polyline points="408.50,430.60 408.86,430.60 409.22,430.60 409.58,430.60 409.94,430.60 410.30,430.60 410.66,430.60 411.02,430.60 411.38,430.60 411.74,430.60 412.10,430.60 412.46,430.60 412.82,430.60 413.18,430.60 413.54,430.60 413.90,430.60 414.26,430.60 414.62,430.60 414.98,430.60 415.34,430.60 415.70,430.60 416.06,430.60 416.42,430.60 416.78,430.60 417.14,430.60 417.50,430.60 417.86,430.60 418.22,430.60 418.58,430.60 418.94,430.60 419.30,430.60 419.66,430.60 420.02,430.60 420.38,430.60 420.74,430.60 421.10,430.60 421.46,430.60 421.82,430.60 422.18,430.60 422.54,430.60 422.90,430.60 423.26,430.60 423.62,430.60 423.98,430.60 424.34,430.60 424.70,430.60 425.06,430.60 425.42,430.60 425.77,430.60 426.13,430.60 426.49,430.60 426.85,430.60 427.21,430.60 427.57,430.60 427.93,430.60 428.29,430.60 428.65,430.60 429.01,430.60 429.37,430.60 429.73,430.60 430.09,430.60 430.45,430.60 430.81,430.60 431.17,430.60 431.53,430.60 431.89,430.60 432.25,430.60 432.61,430.60 432.97,430.60 433.33,430.60 433.69,430.60 434.05,430.60 434.41,430.60 434.77,430.60 435.13,430.60 435.49,430.60 435.85,430.60 436.21,430.60 436.57,430.60 436.93,430.60 437.29,430.60 437.65,430.60 438.01,430.60 438.37,430.60 438.73,430.60 439.09,430.60 439.45,430.60 439.81,430.60 440.17,430.60 440.53,430.60 440.89,430.60 441.25,430.60 441.61,430.60 441.97,430.60 442.33,430.60 442.69,430.60 443.05,430.60 443.41,430.60 443.77,430.60 444.13,430.60 444.49,430.60 444.85,430.60 445.21,430.60 445.57,430.60 445.93,430.60 446.29,430.58 446.65,430.55 447.01,430.47 447.37,430.26 447.73,429.79 448.09,428.81 448.45,426.93 448.81,423.63 449.17,418.33 449.53,410.55 449.89,400.24 450.25,387.96 450.61,375.06 450.97,363.53 451.33,355.49 451.69,352.60 452.05,355.49 452.41,363.53 452.77,375.06 453.13,387.96 453.49,400.24 453.85,410.55 454.21,418.33 454.57,423.63 454.93,426.93 455.29,428.81 455.65,429.79 456.01,430.26 456.37,430.47 456.73,430.55 457.09,430.58 457.45,430.60 457.81,430.60 458.17,430.60 458.53,430.60 458.89,430.60 459.25,430.60 459.61,430.60 459.97,430.60 460.32,430.60 460.68,430.60 461.04,430.60 461.40,430.60 461.76,430.60 462.12,430.60 462.48,430.60 462.84,430.60 463.20,430.60 463.56,430.60 463.92,430.60 464.28,430.60 464.64,430.60 465.00,430.60 465.36,430.60 465.72,430.60 466.08,430.60 466.44,430.60 466.80,430.60 467.16,430.60 467.52,430.60 467.88,430.60 468.24,430.60 468.60,430.60 468.96,430.60 469.32,430.60 469.68,430.60 470.04,430.60 470.40,430.60 470.76,430.60 471.12,430.60 471.48,430.60 471.84,430.60 472.20,430.60 472.56,430.60 472.92,430.60 473.28,430.60 473.64,430.60 474.00,430.60 474.36,430.60 474.72,430.60 475.08,430.60 475.44,430.60 475.80,430.60 476.16,430.60 476.52,430.60 476.88,430.60 477.24,430.60 477.60,430.60 477.96,430.60 478.32,430.60 478.68,430.60 479.04,430.60 479.40,430.60 479.76,430.60 480.12,430.60 480.48,430.60 480.84,430.60 481.20,430.60 481.56,430.60 481.92,430.60 482.28,430.60 482.64,430.60 483.00,430.60 483.36,430.60 483.72,430.60 484.08,430.60 484.44,430.60 484.80,430.60 485.16,430.60 485.52,430.60 485.88,430.60 486.24,430.60 486.60,430.60 486.96,430.60 487.32,430.60 487.68,430.60 488.04,430.60 488.40,430.60 488.76,430.60 489.12,430.60 489.48,430.60 489.84,430.60 490.20,430.60 490.56,430.60 490.92,430.60 491.28,430.60 491.64,430.60 492.00,430.60 492.36,430.60 492.72,430.60 493.08,430.60 493.44,430.60 493.80,430.60 494.16,430.60 494.52,430.60 494.88,430.60" fill="none" stroke="#DB6100" stroke-opacity="0.80" stroke-width="1.45" stroke-linejoin="round"/>
</g>
<g clip-path="url(#d5)">
<polyline points="494.88,516.29 495.23,516.28 495.59,516.27 495.95,516.25 496.31,516.23 496.67,516.22 497.03,516.20 497.39,516.17 497.75,516.15 498.11,516.12 498.47,516.09 498.83,516.06 499.19,516.02 499.55,515.98 499.91,515.94 500.27,515.90 500.63,515.85 500.99,515.79 501.35,515.73 501.71,515.67 502.07,515.59 502.43,515.52 502.79,515.43 503.15,515.34 503.51,515.25 503.87,515.14 504.23,515.03 504.59,514.91 504.95,514.77 505.31,514.63 505.67,514.48 506.03,514.32 506.39,514.14 506.75,513.95 507.11,513.75 507.47,513.54 507.83,513.30 508.19,513.06 508.55,512.80 508.91,512.52 509.27,512.22 509.63,511.91 509.99,511.57 510.35,511.22 510.71,510.84 511.07,510.45 511.43,510.03 511.79,509.58 512.15,509.11 512.51,508.62 512.87,508.10 513.23,507.56 513.59,506.99 513.95,506.39 514.31,505.76 514.67,505.10 515.03,504.42 515.39,503.70 515.75,502.95 516.11,502.18 516.47,501.37 516.83,500.53 517.19,499.65 517.55,498.75 517.91,497.81 518.27,496.84 518.63,495.84 518.99,494.81 519.35,493.75 519.71,492.66 520.07,491.54 520.43,490.39 520.79,489.21 521.15,488.00 521.51,486.76 521.87,485.50 522.23,484.22 522.59,482.91 522.95,481.59 523.31,480.24 523.67,478.88 524.03,477.50 524.39,476.10 524.75,474.69 525.11,473.28 525.47,471.86 525.83,470.43 526.19,469.00 526.55,467.57 526.91,466.14 527.27,464.72 527.63,463.30 527.99,461.90 528.35,460.51 528.71,459.14 529.07,457.79 529.42,456.46 529.78,455.16 530.14,453.89 530.50,452.65 530.86,451.44 531.22,450.27 531.58,449.14 531.94,448.06 532.30,447.02 532.66,446.03 533.02,445.09 533.38,444.20 533.74,443.37 534.10,442.60 534.46,441.89 534.82,441.24 535.18,440.65 535.54,440.13 535.90,439.67 536.26,439.29 536.62,438.97 536.98,438.72 537.34,438.54 537.70,438.44 538.06,438.40 538.42,438.44 538.78,438.54 539.14,438.72 539.50,438.97 539.86,439.29 540.22,439.67 540.58,440.13 540.94,440.65 541.30,441.24 541.66,441.89 542.02,442.60 542.38,443.37 542.74,444.20 543.10,445.09 543.46,446.03 543.82,447.02 544.18,448.06 544.54,449.14 544.90,450.27 545.26,451.44 545.62,452.65 545.98,453.89 546.34,455.16 546.70,456.46 547.06,457.79 547.42,459.14 547.78,460.51 548.14,461.90 548.50,463.30 548.86,464.72 549.22,466.14 549.58,467.57 549.94,469.00 550.30,470.43 550.66,471.86 551.02,473.28 551.38,474.69 551.74,476.10 552.10,477.50 552.46,478.88 552.82,480.24 553.18,481.59 553.54,482.91 553.90,484.22 554.26,485.50 554.62,486.76 554.98,488.00 555.34,489.21 555.70,490.39 556.06,491.54 556.42,492.66 556.78,493.75 557.14,494.81 557.50,495.84 557.86,496.84 558.22,497.81 558.58,498.75 558.94,499.65 559.30,500.53 559.66,501.37 560.02,502.18 560.38,502.95 560.74,503.70 561.10,504.42 561.46,505.10 561.82,505.76 562.18,506.39 562.54,506.99 562.90,507.56 563.26,508.10 563.62,508.62 563.98,509.11 564.33,509.58 564.69,510.03 565.05,510.45 565.41,510.84 565.77,511.22 566.13,511.57 566.49,511.91 566.85,512.22 567.21,512.52 567.57,512.80 567.93,513.06 568.29,513.30 568.65,513.54 569.01,513.75 569.37,513.95 569.73,514.14 570.09,514.32 570.45,514.48 570.81,514.63 571.17,514.77 571.53,514.91 571.89,515.03 572.25,515.14 572.61,515.25 572.97,515.34 573.33,515.43 573.69,515.52 574.05,515.59 574.41,515.67 574.77,515.73 575.13,515.79 575.49,515.85 575.85,515.90 576.21,515.94 576.57,515.98 576.93,516.02 577.29,516.06 577.65,516.09 578.01,516.12 578.37,516.15 578.73,516.17 579.09,516.20 579.45,516.22 579.81,516.23 580.17,516.25 580.53,516.27 580.89,516.28 581.25,516.29" fill="none" stroke="#78C3ED" stroke-opacity="0.80" stroke-width="1.45" stroke-linejoin="round"/>
<polyline points="494.88,516.32 495.23,516.31 495.59,516.30 495.95,516.29 496.31,516.27 496.67,516.26 497.03,516.24 497.39,516.22 497.75,516.20 498.11,516.18 498.47,516.16 498.83,516.13 499.19,516.10 499.55,516.07 499.91,516.03 500.27,515.99 500.63,515.95 500.99,515.90 501.35,515.85 501.71,515.80 502.07,515.73 502.43,515.67 502.79,515.60 503.15,515.52 503.51,515.43 503.87,515.34 504.23,515.24 504.59,515.13 504.95,515.02 505.31,514.89 505.67,514.75 506.03,514.61 506.39,514.45 506.75,514.28 507.11,514.10 507.47,513.90 507.83,513.69 508.19,513.47 508.55,513.23 508.91,512.97 509.27,512.70 509.63,512.41 509.99,512.10 510.35,511.77 510.71,511.42 511.07,511.05 511.43,510.66 511.79,510.24 512.15,509.80 512.51,509.33 512.87,508.84 513.23,508.32 513.59,507.78 513.95,507.21 514.31,506.61 514.67,505.98 515.03,505.32 515.39,504.62 515.75,503.90 516.11,503.15 516.47,502.36 516.83,501.54 517.19,500.69 517.55,499.81 517.91,498.89 518.27,497.94 518.63,496.95 518.99,495.94 519.35,494.89 519.71,493.81 520.07,492.69 520.43,491.55 520.79,490.37 521.15,489.17 521.51,487.93 521.87,486.67 522.23,485.38 522.59,484.07 522.95,482.74 523.31,481.38 523.67,480.00 524.03,478.60 524.39,477.19 524.75,475.77 525.11,474.33 525.47,472.88 525.83,471.43 526.19,469.97 526.55,468.51 526.91,467.05 527.27,465.60 527.63,464.15 527.99,462.71 528.35,461.28 528.71,459.87 529.07,458.48 529.42,457.12 529.78,455.77 530.14,454.46 530.50,453.18 530.86,451.93 531.22,450.72 531.58,449.56 531.94,448.43 532.30,447.35 532.66,446.33 533.02,445.35 533.38,444.43 533.74,443.57 534.10,442.77 534.46,442.03 534.82,441.35 535.18,440.74 535.54,440.20 535.90,439.73 536.26,439.32 536.62,438.99 536.98,438.73 537.34,438.55 537.70,438.44 538.06,438.40 538.42,438.44 538.78,438.55 539.14,438.73 539.50,438.99 539.86,439.32 540.22,439.73 540.58,440.20 540.94,440.74 541.30,441.35 541.66,442.03 542.02,442.77 542.38,443.57 542.74,444.43 543.10,445.35 543.46,446.33 543.82,447.35 544.18,448.43 544.54,449.56 544.90,450.72 545.26,451.93 545.62,453.18 545.98,454.46 546.34,455.77 546.70,457.12 547.06,458.48 547.42,459.87 547.78,461.28 548.14,462.71 548.50,464.15 548.86,465.60 549.22,467.05 549.58,468.51 549.94,469.97 550.30,471.43 550.66,472.88 551.02,474.33 551.38,475.77 551.74,477.19 552.10,478.60 552.46,480.00 552.82,481.38 553.18,482.74 553.54,484.07 553.90,485.38 554.26,486.67 554.62,487.93 554.98,489.17 555.34,490.37 555.70,491.55 556.06,492.69 556.42,493.81 556.78,494.89 557.14,495.94 557.50,496.95 557.86,497.94 558.22,498.89 558.58,499.81 558.94,500.69 559.30,501.54 559.66,502.36 560.02,503.15 560.38,503.90 560.74,504.62 561.10,505.32 561.46,505.98 561.82,506.61 562.18,507.21 562.54,507.78 562.90,508.32 563.26,508.84 563.62,509.33 563.98,509.80 564.33,510.24 564.69,510.66 565.05,511.05 565.41,511.42 565.77,511.77 566.13,512.10 566.49,512.41 566.85,512.70 567.21,512.97 567.57,513.23 567.93,513.47 568.29,513.69 568.65,513.90 569.01,514.10 569.37,514.28 569.73,514.45 570.09,514.61 570.45,514.75 570.81,514.89 571.17,515.02 571.53,515.13 571.89,515.24 572.25,515.34 572.61,515.43 572.97,515.52 573.33,515.60 573.69,515.67 574.05,515.73 574.41,515.80 574.77,515.85 575.13,515.90 575.49,515.95 575.85,515.99 576.21,516.03 576.57,516.07 576.93,516.10 577.29,516.13 577.65,516.16 578.01,516.18 578.37,516.20 578.73,516.22 579.09,516.24 579.45,516.26 579.81,516.27 580.17,516.29 580.53,516.30 580.89,516.31 581.25,516.32" fill="none" stroke="#DB6100" stroke-opacity="0.80" stroke-width="1.45" stroke-linejoin="round"/>
</g>
<g clip-path="url(#d6)">
<polyline points="581.25,601.48 581.61,601.43 581.97,601.36 582.33,601.30 582.69,601.23 583.05,601.15 583.41,601.07 583.77,600.98 584.13,600.89 584.49,600.79 584.85,600.69 585.21,600.57 585.57,600.45 585.93,600.33 586.29,600.19 586.65,600.05 587.01,599.90 587.37,599.74 587.73,599.57 588.09,599.39 588.45,599.20 588.81,599.00 589.17,598.78 589.53,598.56 589.89,598.32 590.25,598.08 590.61,597.81 590.97,597.54 591.33,597.25 591.69,596.95 592.05,596.63 592.41,596.29 592.77,595.94 593.13,595.57 593.49,595.19 593.85,594.79 594.21,594.37 594.57,593.93 594.93,593.47 595.29,593.00 595.65,592.50 596.01,591.99 596.37,591.45 596.73,590.89 597.09,590.32 597.45,589.72 597.81,589.10 598.17,588.45 598.52,587.79 598.88,587.10 599.24,586.39 599.60,585.66 599.96,584.90 600.32,584.13 600.68,583.33 601.04,582.50 601.40,581.66 601.76,580.79 602.12,579.90 602.48,578.99 602.84,578.06 603.20,577.10 603.56,576.13 603.92,575.13 604.28,574.12 604.64,573.08 605.00,572.03 605.36,570.96 605.72,569.87 606.08,568.77 606.44,567.65 606.80,566.52 607.16,565.37 607.52,564.22 607.88,563.05 608.24,561.87 608.60,560.68 608.96,559.49 609.32,558.29 609.68,557.09 610.04,555.88 610.40,554.68 610.76,553.47 611.12,552.26 611.48,551.06 611.84,549.87 612.20,548.68 612.56,547.49 612.92,546.32 613.28,545.17 613.64,544.02 614.00,542.89 614.36,541.78 614.72,540.69 615.08,539.62 615.44,538.57 615.80,537.54 616.16,536.55 616.52,535.58 616.88,534.64 617.24,533.73 617.60,532.85 617.96,532.01 618.32,531.21 618.68,530.44 619.04,529.71 619.40,529.02 619.76,528.38 620.12,527.77 620.48,527.21 620.84,526.70 621.20,526.23 621.56,525.81 621.92,525.44 622.28,525.11 622.64,524.83 623.00,524.61 623.36,524.43 623.72,524.30 624.08,524.23 624.44,524.20 624.80,524.23 625.16,524.30 625.52,524.43 625.88,524.61 626.24,524.83 626.60,525.11 626.96,525.44 627.32,525.81 627.68,526.23 628.04,526.70 628.40,527.21 628.76,527.77 629.12,528.38 629.48,529.02 629.84,529.71 630.20,530.44 630.56,531.21 630.92,532.01 631.28,532.85 631.64,533.73 632.00,534.64 632.36,535.58 632.72,536.55 633.08,537.54 633.43,538.57 633.79,539.62 634.15,540.69 634.51,541.78 634.87,542.89 635.23,544.02 635.59,545.17 635.95,546.32 636.31,547.49 636.67,548.68 637.03,549.87 637.39,551.06 637.75,552.26 638.11,553.47 638.47,554.68 638.83,555.88 639.19,557.09 639.55,558.29 639.91,559.49 640.27,560.68 640.63,561.87 640.99,563.05 641.35,564.22 641.71,565.37 642.07,566.52 642.43,567.65 642.79,568.77 643.15,569.87 643.51,570.96 643.87,572.03 644.23,573.08 644.59,574.12 644.95,575.13 645.31,576.13 645.67,577.10 646.03,578.06 646.39,578.99 646.75,579.90 647.11,580.79 647.47,581.66 647.83,582.50 648.19,583.33 648.55,584.13 648.91,584.90 649.27,585.66 649.63,586.39 649.99,587.10 650.35,587.79 650.71,588.45 651.07,589.10 651.43,589.72 651.79,590.32 652.15,590.89 652.51,591.45 652.87,591.99 653.23,592.50 653.59,593.00 653.95,593.47 654.31,593.93 654.67,594.37 655.03,594.79 655.39,595.19 655.75,595.57 656.11,595.94 656.47,596.29 656.83,596.63 657.19,596.95 657.55,597.25 657.91,597.54 658.27,597.81 658.63,598.08 658.99,598.32 659.35,598.56 659.71,598.78 660.07,599.00 660.43,599.20 660.79,599.39 661.15,599.57 661.51,599.74 661.87,599.90 662.23,600.05 662.59,600.19 662.95,600.33 663.31,600.45 663.67,600.57 664.03,600.69 664.39,600.79 664.75,600.89 665.11,600.98 665.47,601.07 665.83,601.15 666.19,601.23 666.55,601.30 666.91,601.36 667.27,601.43 667.62,601.48" fill="none" stroke="#78C3ED" stroke-opacity="0.80" stroke-width="1.45" stroke-linejoin="round"/>
<polyline points="581.25,602.20 581.61,602.20 581.97,602.20 582.33,602.20 582.69,602.20 583.05,602.20 583.41,602.20 583.77,602.20 584.13,602.20 584.49,602.20 584.85,602.20 585.21,602.20 585.57,602.20 585.93,602.20 586.29,602.20 586.65,602.20 587.01,602.20 587.37,602.20 587.73,602.20 588.09,602.20 588.45,602.20 588.81,602.20 589.17,602.20 589.53,602.20 589.89,602.20 590.25,602.20 590.61,602.20 590.97,602.20 591.33,602.20 591.69,602.20 592.05,602.20 592.41,602.20 592.77,602.20 593.13,602.20 593.49,602.20 593.85,602.20 594.21,602.20 594.57,602.20 594.93,602.20 595.29,602.20 595.65,602.20 596.01,602.20 596.37,602.19 596.73,602.19 597.09,602.19 597.45,602.19 597.81,602.18 598.17,602.18 598.52,602.17 598.88,602.17 599.24,602.16 599.60,602.15 599.96,602.14 600.32,602.13 600.68,602.11 601.04,602.09 601.40,602.06 601.76,602.04 602.12,602.00 602.48,601.96 602.84,601.91 603.20,601.85 603.56,601.78 603.92,601.70 604.28,601.60 604.64,601.49 605.00,601.36 605.36,601.20 605.72,601.03 606.08,600.82 606.44,600.59 606.80,600.32 607.16,600.02 607.52,599.67 607.88,599.28 608.24,598.83 608.60,598.33 608.96,597.77 609.32,597.15 609.68,596.46 610.04,595.69 610.40,594.84 610.76,593.90 611.12,592.88 611.48,591.76 611.84,590.55 612.20,589.23 612.56,587.81 612.92,586.28 613.28,584.64 613.64,582.90 614.00,581.05 614.36,579.10 614.72,577.04 615.08,574.88 615.44,572.63 615.80,570.29 616.16,567.88 616.52,565.40 616.88,562.86 617.24,560.27 617.60,557.66 617.96,555.02 618.32,552.39 618.68,549.77 619.04,547.19 619.40,544.66 619.76,542.19 620.12,539.82 620.48,537.55 620.84,535.41 621.20,533.41 621.56,531.57 621.92,529.91 622.28,528.44 622.64,527.17 623.00,526.11 623.36,525.28 623.72,524.68 624.08,524.32 624.44,524.20 624.80,524.32 625.16,524.68 625.52,525.28 625.88,526.11 626.24,527.17 626.60,528.44 626.96,529.91 627.32,531.57 627.68,533.41 628.04,535.41 628.40,537.55 628.76,539.82 629.12,542.19 629.48,544.66 629.84,547.19 630.20,549.77 630.56,552.39 630.92,555.02 631.28,557.66 631.64,560.27 632.00,562.86 632.36,565.40 632.72,567.88 633.08,570.29 633.43,572.63 633.79,574.88 634.15,577.04 634.51,579.10 634.87,581.05 635.23,582.90 635.59,584.64 635.95,586.28 636.31,587.81 636.67,589.23 637.03,590.55 637.39,591.76 637.75,592.88 638.11,593.90 638.47,594.84 638.83,595.69 639.19,596.46 639.55,597.15 639.91,597.77 640.27,598.33 640.63,598.83 640.99,599.28 641.35,599.67 641.71,600.02 642.07,600.32 642.43,600.59 642.79,600.82 643.15,601.03 643.51,601.20 643.87,601.36 644.23,601.49 644.59,601.60 644.95,601.70 645.31,601.78 645.67,601.85 646.03,601.91 646.39,601.96 646.75,602.00 647.11,602.04 647.47,602.06 647.83,602.09 648.19,602.11 648.55,602.13 648.91,602.14 649.27,602.15 649.63,602.16 649.99,602.17 650.35,602.17 650.71,602.18 651.07,602.18 651.43,602.19 651.79,602.19 652.15,602.19 652.51,602.19 652.87,602.20 653.23,602.20 653.59,602.20 653.95,602.20 654.31,602.20 654.67,602.20 655.03,602.20 655.39,602.20 655.75,602.20 656.11,602.20 656.47,602.20 656.83,602.20 657.19,602.20 657.55,602.20 657.91,602.20 658.27,602.20 658.63,602.20 658.99,602.20 659.35,602.20 659.71,602.20 660.07,602.20 660.43,602.20 660.79,602.20 661.15,602.20 661.51,602.20 661.87,602.20 662.23,602.20 662.59,602.20 662.95,602.20 663.31,602.20 663.67,602.20 664.03,602.20 664.39,602.20 664.75,602.20 665.11,602.20 665.47,602.20 665.83,602.20 666.19,602.20 666.55,602.20 666.91,602.20 667.27,602.20 667.62,602.20" fill="none" stroke="#DB6100" stroke-opacity="0.80" stroke-width="1.45" stroke-linejoin="round"/>
</g>
<g clip-path="url(#d7)">
<polyline points="667.62,686.35 667.98,686.24 668.34,686.13 668.70,686.01 669.06,685.88 669.42,685.74 669.78,685.60 670.14,685.45 670.50,685.29 670.86,685.12 671.22,684.95 671.58,684.76 671.94,684.57 672.30,684.37 672.66,684.15 673.02,683.93 673.38,683.69 673.74,683.45 674.10,683.19 674.46,682.92 674.82,682.64 675.18,682.35 675.54,682.04 675.90,681.72 676.26,681.39 676.62,681.04 676.98,680.68 677.34,680.31 677.70,679.92 678.06,679.51 678.42,679.09 678.78,678.65 679.14,678.20 679.50,677.73 679.86,677.24 680.22,676.74 680.58,676.21 680.94,675.68 681.30,675.12 681.66,674.54 682.02,673.95 682.38,673.34 682.74,672.71 683.10,672.06 683.46,671.39 683.82,670.71 684.18,670.01 684.54,669.28 684.90,668.54 685.26,667.78 685.62,667.00 685.98,666.21 686.34,665.39 686.70,664.56 687.06,663.71 687.42,662.84 687.78,661.96 688.14,661.06 688.50,660.14 688.86,659.21 689.22,658.26 689.58,657.30 689.94,656.32 690.30,655.33 690.66,654.32 691.02,653.31 691.38,652.28 691.74,651.24 692.10,650.19 692.46,649.14 692.82,648.07 693.18,647.00 693.54,645.92 693.90,644.83 694.26,643.74 694.62,642.65 694.98,641.56 695.34,640.46 695.70,639.37 696.06,638.28 696.42,637.19 696.78,636.10 697.14,635.02 697.50,633.94 697.86,632.88 698.22,631.82 698.58,630.77 698.94,629.73 699.30,628.71 699.66,627.70 700.02,626.71 700.38,625.73 700.74,624.77 701.10,623.83 701.46,622.92 701.82,622.02 702.17,621.15 702.53,620.30 702.89,619.48 703.25,618.69 703.61,617.92 703.97,617.19 704.33,616.48 704.69,615.81 705.05,615.17 705.41,614.56 705.77,613.99 706.13,613.45 706.49,612.95 706.85,612.49 707.21,612.06 707.57,611.67 707.93,611.33 708.29,611.02 708.65,610.75 709.01,610.52 709.37,610.33 709.73,610.19 710.09,610.08 710.45,610.02 710.81,610.00 711.17,610.02 711.53,610.08 711.89,610.19 712.25,610.33 712.61,610.52 712.97,610.75 713.33,611.02 713.69,611.33 714.05,611.67 714.41,612.06 714.77,612.49 715.13,612.95 715.49,613.45 715.85,613.99 716.21,614.56 716.57,615.17 716.93,615.81 717.29,616.48 717.65,617.19 718.01,617.92 718.37,618.69 718.73,619.48 719.09,620.30 719.45,621.15 719.81,622.02 720.17,622.92 720.53,623.83 720.89,624.77 721.25,625.73 721.61,626.71 721.97,627.70 722.33,628.71 722.69,629.73 723.05,630.77 723.41,631.82 723.77,632.88 724.13,633.94 724.49,635.02 724.85,636.10 725.21,637.19 725.57,638.28 725.93,639.37 726.29,640.46 726.65,641.56 727.01,642.65 727.37,643.74 727.73,644.83 728.09,645.92 728.45,647.00 728.81,648.07 729.17,649.14 729.53,650.19 729.89,651.24 730.25,652.28 730.61,653.31 730.97,654.32 731.33,655.33 731.69,656.32 732.05,657.30 732.41,658.26 732.77,659.21 733.13,660.14 733.49,661.06 733.85,661.96 734.21,662.84 734.57,663.71 734.93,664.56 735.29,665.39 735.65,666.21 736.01,667.00 736.37,667.78 736.73,668.54 737.08,669.28 737.44,670.01 737.80,670.71 738.16,671.39 738.52,672.06 738.88,672.71 739.24,673.34 739.60,673.95 739.96,674.54 740.32,675.12 740.68,675.68 741.04,676.21 741.40,676.74 741.76,677.24 742.12,677.73 742.48,678.20 742.84,678.65 743.20,679.09 743.56,679.51 743.92,679.92 744.28,680.31 744.64,680.68 745.00,681.04 745.36,681.39 745.72,681.72 746.08,682.04 746.44,682.35 746.80,682.64 747.16,682.92 747.52,683.19 747.88,683.45 748.24,683.69 748.60,683.93 748.96,684.15 749.32,684.37 749.68,684.57 750.04,684.76 750.40,684.95 750.76,685.12 751.12,685.29 751.48,685.45 751.84,685.60 752.20,685.74 752.56,685.88 752.92,686.01 753.28,686.13 753.64,686.24 754.00,686.35" fill="none" stroke="#78C3ED" stroke-opacity="0.80" stroke-width="1.45" stroke-linejoin="round"/>
<polyline points="667.62,687.28 667.98,687.23 668.34,687.16 668.70,687.10 669.06,687.03 669.42,686.95 669.78,686.87 670.14,686.78 670.50,686.69 670.86,686.59 671.22,686.49 671.58,686.37 671.94,686.25 672.30,686.13 672.66,685.99 673.02,685.85 673.38,685.70 673.74,685.54 674.10,685.37 674.46,685.19 674.82,685.00 675.18,684.80 675.54,684.58 675.90,684.36 676.26,684.12 676.62,683.88 676.98,683.61 677.34,683.34 677.70,683.05 678.06,682.75 678.42,682.43 678.78,682.09 679.14,681.74 679.50,681.37 679.86,680.99 680.22,680.59 680.58,680.17 680.94,679.73 681.30,679.27 681.66,678.80 682.02,678.30 682.38,677.79 682.74,677.25 683.10,676.69 683.46,676.12 683.82,675.52 684.18,674.90 684.54,674.25 684.90,673.59 685.26,672.90 685.62,672.19 685.98,671.46 686.34,670.70 686.70,669.93 687.06,669.13 687.42,668.30 687.78,667.46 688.14,666.59 688.50,665.70 688.86,664.79 689.22,663.86 689.58,662.90 689.94,661.93 690.30,660.93 690.66,659.92 691.02,658.88 691.38,657.83 691.74,656.76 692.10,655.67 692.46,654.57 692.82,653.45 693.18,652.32 693.54,651.17 693.90,650.02 694.26,648.85 694.62,647.67 694.98,646.48 695.34,645.29 695.70,644.09 696.06,642.89 696.42,641.68 696.78,640.48 697.14,639.27 697.50,638.06 697.86,636.86 698.22,635.67 698.58,634.48 698.94,633.29 699.30,632.12 699.66,630.97 700.02,629.82 700.38,628.69 700.74,627.58 701.10,626.49 701.46,625.42 701.82,624.37 702.17,623.34 702.53,622.35 702.89,621.38 703.25,620.44 703.61,619.53 703.97,618.65 704.33,617.81 704.69,617.01 705.05,616.24 705.41,615.51 705.77,614.82 706.13,614.18 706.49,613.57 706.85,613.01 707.21,612.50 707.57,612.03 707.93,611.61 708.29,611.24 708.65,610.91 709.01,610.63 709.37,610.41 709.73,610.23 710.09,610.10 710.45,610.03 710.81,610.00 711.17,610.03 711.53,610.10 711.89,610.23 712.25,610.41 712.61,610.63 712.97,610.91 713.33,611.24 713.69,611.61 714.05,612.03 714.41,612.50 714.77,613.01 715.13,613.57 715.49,614.18 715.85,614.82 716.21,615.51 716.57,616.24 716.93,617.01 717.29,617.81 717.65,618.65 718.01,619.53 718.37,620.44 718.73,621.38 719.09,622.35 719.45,623.34 719.81,624.37 720.17,625.42 720.53,626.49 720.89,627.58 721.25,628.69 721.61,629.82 721.97,630.97 722.33,632.12 722.69,633.29 723.05,634.48 723.41,635.67 723.77,636.86 724.13,638.06 724.49,639.27 724.85,640.48 725.21,641.68 725.57,642.89 725.93,644.09 726.29,645.29 726.65,646.48 727.01,647.67 727.37,648.85 727.73,650.02 728.09,651.17 728.45,652.32 728.81,653.45 729.17,654.57 729.53,655.67 729.89,656.76 730.25,657.83 730.61,658.88 730.97,659.92 731.33,660.93 731.69,661.93 732.05,662.90 732.41,663.86 732.77,664.79 733.13,665.70 733.49,666.59 733.85,667.46 734.21,668.30 734.57,669.13 734.93,669.93 735.29,670.70 735.65,671.46 736.01,672.19 736.37,672.90 736.73,673.59 737.08,674.25 737.44,674.90 737.80,675.52 738.16,676.12 738.52,676.69 738.88,677.25 739.24,677.79 739.60,678.30 739.96,678.80 740.32,679.27 740.68,679.73 741.04,680.17 741.40,680.59 741.76,680.99 742.12,681.37 742.48,681.74 742.84,682.09 743.20,682.43 743.56,682.75 743.92,683.05 744.28,683.34 744.64,683.61 745.00,683.88 745.36,684.12 745.72,684.36 746.08,684.58 746.44,684.80 746.80,685.00 747.16,685.19 747.52,685.37 747.88,685.54 748.24,685.70 748.60,685.85 748.96,685.99 749.32,686.13 749.68,686.25 750.04,686.37 750.40,686.49 750.76,686.59 751.12,686.69 751.48,686.78 751.84,686.87 752.20,686.95 752.56,687.03 752.92,687.10 753.28,687.16 753.64,687.23 754.00,687.28" fill="none" stroke="#DB6100" stroke-opacity="0.80" stroke-width="1.45" stroke-linejoin="round"/>
</g>
<text transform="translate(87.83 701.39) rotate(-45)" x="0" y="2.91" text-anchor="middle" font-size="12.87" textLength="18.61" lengthAdjust="spacingAndGlyphs">0.8</text>
<text transform="translate(141.83 701.39) rotate(-45)" x="0" y="2.91" text-anchor="middle" font-size="12.87" textLength="18.61" lengthAdjust="spacingAndGlyphs">0.9</text>
<text transform="translate(180.07 704.02) rotate(-45)" x="0" y="2.91" text-anchor="middle" font-size="12.87" textLength="26.05" lengthAdjust="spacingAndGlyphs">0.30</text>
<text transform="translate(215.77 704.02) rotate(-45)" x="0" y="2.91" text-anchor="middle" font-size="12.87" textLength="26.05" lengthAdjust="spacingAndGlyphs">0.35</text>
<text transform="translate(242.21 704.02) rotate(-45)" x="0" y="2.91" text-anchor="middle" font-size="12.87" textLength="26.05" lengthAdjust="spacingAndGlyphs">0.75</text>
<text transform="translate(285.44 704.02) rotate(-45)" x="0" y="2.91" text-anchor="middle" font-size="12.87" textLength="26.05" lengthAdjust="spacingAndGlyphs">1.00</text>
<text transform="translate(349.67 701.39) rotate(-45)" x="0" y="2.91" text-anchor="middle" font-size="12.87" textLength="18.61" lengthAdjust="spacingAndGlyphs">0.6</text>
<text transform="translate(393.67 701.39) rotate(-45)" x="0" y="2.91" text-anchor="middle" font-size="12.87" textLength="18.61" lengthAdjust="spacingAndGlyphs">0.8</text>
<text transform="translate(408.29 701.39) rotate(-45)" x="0" y="2.91" text-anchor="middle" font-size="12.87" textLength="18.61" lengthAdjust="spacingAndGlyphs">2.5</text>
<text transform="translate(439.29 701.39) rotate(-45)" x="0" y="2.91" text-anchor="middle" font-size="12.87" textLength="18.61" lengthAdjust="spacingAndGlyphs">3.0</text>
<text transform="translate(470.29 701.39) rotate(-45)" x="0" y="2.91" text-anchor="middle" font-size="12.87" textLength="18.61" lengthAdjust="spacingAndGlyphs">3.5</text>
<text transform="translate(509.36 706.17) rotate(-45)" x="0" y="2.91" text-anchor="middle" font-size="12.87" textLength="32.13" lengthAdjust="spacingAndGlyphs">−100</text>
<text transform="translate(538.06 697.44) rotate(-45)" x="0" y="2.91" text-anchor="middle" font-size="12.87" textLength="7.44" lengthAdjust="spacingAndGlyphs">0</text>
<text transform="translate(566.76 702.71) rotate(-45)" x="0" y="2.91" text-anchor="middle" font-size="12.87" textLength="22.33" lengthAdjust="spacingAndGlyphs">100</text>
<text transform="translate(593.44 708.81) rotate(-45)" x="0" y="2.91" text-anchor="middle" font-size="12.87" textLength="39.58" lengthAdjust="spacingAndGlyphs">−1000</text>
<text transform="translate(624.44 697.44) rotate(-45)" x="0" y="2.91" text-anchor="middle" font-size="12.87" textLength="7.44" lengthAdjust="spacingAndGlyphs">0</text>
<text transform="translate(655.44 705.34) rotate(-45)" x="0" y="2.91" text-anchor="middle" font-size="12.87" textLength="29.77" lengthAdjust="spacingAndGlyphs">1000</text>
<text transform="translate(671.51 706.17) rotate(-45)" x="0" y="2.91" text-anchor="middle" font-size="12.87" textLength="32.13" lengthAdjust="spacingAndGlyphs">−250</text>
<text transform="translate(710.81 697.44) rotate(-45)" x="0" y="2.91" text-anchor="middle" font-size="12.87" textLength="7.44" lengthAdjust="spacingAndGlyphs">0</text>
<text transform="translate(750.11 702.71) rotate(-45)" x="0" y="2.91" text-anchor="middle" font-size="12.87" textLength="22.33" lengthAdjust="spacingAndGlyphs">250</text>
<text transform="translate(56.20 142.71) rotate(-45)" x="0" y="4.09" text-anchor="end" font-size="12.87" textLength="26.05" lengthAdjust="spacingAndGlyphs">0.30</text>
<text transform="translate(56.20 107.25) rotate(-45)" x="0" y="4.09" text-anchor="end" font-size="12.87" textLength="26.05" lengthAdjust="spacingAndGlyphs">0.35</text>
<text transform="translate(56.20 243.99) rotate(-45)" x="0" y="4.09" text-anchor="end" font-size="12.87" textLength="18.61" lengthAdjust="spacingAndGlyphs">0.8</text>
<text transform="translate(56.20 209.64) rotate(-45)" x="0" y="4.09" text-anchor="end" font-size="12.87" textLength="18.61" lengthAdjust="spacingAndGlyphs">1.0</text>
<text transform="translate(56.20 175.29) rotate(-45)" x="0" y="4.09" text-anchor="end" font-size="12.87" textLength="18.61" lengthAdjust="spacingAndGlyphs">1.2</text>
<text transform="translate(56.20 317.44) rotate(-45)" x="0" y="4.09" text-anchor="end" font-size="12.87" textLength="18.61" lengthAdjust="spacingAndGlyphs">0.6</text>
<text transform="translate(56.20 273.73) rotate(-45)" x="0" y="4.09" text-anchor="end" font-size="12.87" textLength="18.61" lengthAdjust="spacingAndGlyphs">0.8</text>
<text transform="translate(56.20 430.81) rotate(-45)" x="0" y="4.09" text-anchor="end" font-size="12.87" textLength="18.61" lengthAdjust="spacingAndGlyphs">2.5</text>
<text transform="translate(56.20 400.02) rotate(-45)" x="0" y="4.09" text-anchor="end" font-size="12.87" textLength="18.61" lengthAdjust="spacingAndGlyphs">3.0</text>
<text transform="translate(56.20 369.22) rotate(-45)" x="0" y="4.09" text-anchor="end" font-size="12.87" textLength="18.61" lengthAdjust="spacingAndGlyphs">3.5</text>
<text transform="translate(56.20 502.01) rotate(-45)" x="0" y="4.09" text-anchor="end" font-size="12.87" textLength="32.13" lengthAdjust="spacingAndGlyphs">−100</text>
<text transform="translate(56.20 473.50) rotate(-45)" x="0" y="4.09" text-anchor="end" font-size="12.87" textLength="7.44" lengthAdjust="spacingAndGlyphs">0</text>
<text transform="translate(56.20 444.99) rotate(-45)" x="0" y="4.09" text-anchor="end" font-size="12.87" textLength="22.33" lengthAdjust="spacingAndGlyphs">100</text>
<text transform="translate(56.20 590.09) rotate(-45)" x="0" y="4.09" text-anchor="end" font-size="12.87" textLength="39.58" lengthAdjust="spacingAndGlyphs">−1000</text>
<text transform="translate(56.20 559.30) rotate(-45)" x="0" y="4.09" text-anchor="end" font-size="12.87" textLength="7.44" lengthAdjust="spacingAndGlyphs">0</text>
<text transform="translate(56.20 528.51) rotate(-45)" x="0" y="4.09" text-anchor="end" font-size="12.87" textLength="29.77" lengthAdjust="spacingAndGlyphs">1000</text>
<text transform="translate(56.20 676.33) rotate(-45)" x="0" y="4.09" text-anchor="end" font-size="12.87" textLength="32.13" lengthAdjust="spacingAndGlyphs">−200</text>
<text transform="translate(56.20 645.10) rotate(-45)" x="0" y="4.09" text-anchor="end" font-size="12.87" textLength="7.44" lengthAdjust="spacingAndGlyphs">0</text>
<text transform="translate(56.20 613.87) rotate(-45)" x="0" y="4.09" text-anchor="end" font-size="12.87" textLength="22.33" lengthAdjust="spacingAndGlyphs">200</text>
<g transform="translate(106.19 740.30)"><text x="-8.42" y="0.00" font-size="15.60" font-style="italic" textLength="9.89" lengthAdjust="spacingAndGlyphs">σ</text><text x="1.47" y="2.20" font-size="10.92" textLength="6.95" lengthAdjust="spacingAndGlyphs">8</text></g>
<g transform="translate(19.20 44.50) rotate(-90)"><text x="-8.42" y="0.00" font-size="15.60" font-style="italic" textLength="9.89" lengthAdjust="spacingAndGlyphs">σ</text><text x="1.47" y="2.20" font-size="10.92" textLength="6.95" lengthAdjust="spacingAndGlyphs">8</text></g>
<g transform="translate(192.56 740.30)"><text x="-11.28" y="0.00" font-size="15.60" textLength="11.92" lengthAdjust="spacingAndGlyphs">Ω</text><text x="0.64" y="2.40" font-size="10.92" font-style="italic" textLength="10.64" lengthAdjust="spacingAndGlyphs">m</text></g>
<g transform="translate(19.20 130.30) rotate(-90)"><text x="-11.28" y="0.00" font-size="15.60" textLength="11.92" lengthAdjust="spacingAndGlyphs">Ω</text><text x="0.64" y="2.40" font-size="10.92" font-style="italic" textLength="10.64" lengthAdjust="spacingAndGlyphs">m</text></g>
<g transform="translate(278.94 740.30)"><text x="-7.79" y="0.00" font-size="15.60" font-style="italic" textLength="9.89" lengthAdjust="spacingAndGlyphs">n</text><text x="2.10" y="2.60" font-size="10.92" font-style="italic" textLength="5.69" lengthAdjust="spacingAndGlyphs">s</text></g>
<g transform="translate(19.20 216.10) rotate(-90)"><text x="-7.79" y="0.00" font-size="15.60" font-style="italic" textLength="9.89" lengthAdjust="spacingAndGlyphs">n</text><text x="2.10" y="2.60" font-size="10.92" font-style="italic" textLength="5.69" lengthAdjust="spacingAndGlyphs">s</text></g>
<g transform="translate(365.31 740.30)"><text x="-4.94" y="0.00" font-size="15.60" font-style="italic" textLength="9.89" lengthAdjust="spacingAndGlyphs">h</text></g>
<g transform="translate(19.20 301.90) rotate(-90)"><text x="-4.94" y="0.00" font-size="15.60" font-style="italic" textLength="9.89" lengthAdjust="spacingAndGlyphs">h</text></g>
<g transform="translate(451.69 743.00)"><text x="-36.53" y="0.00" font-size="15.60" font-style="italic" textLength="13.46" lengthAdjust="spacingAndGlyphs">M</text><text x="-23.07" y="3.00" font-size="10.92" textLength="20.59" lengthAdjust="spacingAndGlyphs">min</text><text x="-2.47" y="0.00" font-size="15.60" textLength="25.11" lengthAdjust="spacingAndGlyphs">/10</text><text x="22.63" y="-5.30" font-size="10.92" textLength="13.89" lengthAdjust="spacingAndGlyphs">13</text></g>
<g transform="translate(19.20 387.70) rotate(-90)"><text x="-36.53" y="0.00" font-size="15.60" font-style="italic" textLength="13.46" lengthAdjust="spacingAndGlyphs">M</text><text x="-23.07" y="3.00" font-size="10.92" textLength="20.59" lengthAdjust="spacingAndGlyphs">min</text><text x="-2.47" y="0.00" font-size="15.60" textLength="25.11" lengthAdjust="spacingAndGlyphs">/10</text><text x="22.63" y="-5.30" font-size="10.92" textLength="13.89" lengthAdjust="spacingAndGlyphs">13</text></g>
<g transform="translate(538.06 742.60)"><text x="-16.22" y="0.00" font-size="15.60" font-style="italic" textLength="5.49" lengthAdjust="spacingAndGlyphs">f</text><text x="-9.23" y="-5.80" font-size="10.92" textLength="25.44" lengthAdjust="spacingAndGlyphs">local</text><text x="-10.73" y="4.40" font-size="10.92" textLength="14.25" lengthAdjust="spacingAndGlyphs">NL</text></g>
<g transform="translate(17.00 473.50) rotate(-90)"><text x="-16.22" y="0.00" font-size="15.60" font-style="italic" textLength="5.49" lengthAdjust="spacingAndGlyphs">f</text><text x="-9.23" y="-5.80" font-size="10.92" textLength="25.44" lengthAdjust="spacingAndGlyphs">local</text><text x="-10.73" y="4.40" font-size="10.92" textLength="14.25" lengthAdjust="spacingAndGlyphs">NL</text></g>
<g transform="translate(624.44 744.50)"><text x="-16.47" y="0.00" font-size="15.60" font-style="italic" textLength="5.49" lengthAdjust="spacingAndGlyphs">f</text><text x="-10.17" y="-7.30" font-size="10.92" textLength="26.64" lengthAdjust="spacingAndGlyphs">equil</text><text x="-10.97" y="4.20" font-size="10.92" textLength="14.25" lengthAdjust="spacingAndGlyphs">NL</text></g>
<g transform="translate(17.00 559.30) rotate(-90)"><text x="-16.47" y="0.00" font-size="15.60" font-style="italic" textLength="5.49" lengthAdjust="spacingAndGlyphs">f</text><text x="-10.17" y="-7.30" font-size="10.92" textLength="26.64" lengthAdjust="spacingAndGlyphs">equil</text><text x="-10.97" y="4.20" font-size="10.92" textLength="14.25" lengthAdjust="spacingAndGlyphs">NL</text></g>
<g transform="translate(710.81 742.90)"><text x="-17.27" y="0.00" font-size="15.60" font-style="italic" textLength="5.49" lengthAdjust="spacingAndGlyphs">f</text><text x="-11.78" y="-5.60" font-size="10.92" textLength="29.05" lengthAdjust="spacingAndGlyphs">ortho</text><text x="-11.78" y="4.20" font-size="10.92" textLength="14.25" lengthAdjust="spacingAndGlyphs">NL</text></g>
<g transform="translate(17.00 645.10) rotate(-90)"><text x="-17.27" y="0.00" font-size="15.60" font-style="italic" textLength="5.49" lengthAdjust="spacingAndGlyphs">f</text><text x="-11.78" y="-5.60" font-size="10.92" textLength="29.05" lengthAdjust="spacingAndGlyphs">ortho</text><text x="-11.78" y="4.20" font-size="10.92" textLength="14.25" lengthAdjust="spacingAndGlyphs">NL</text></g>
<rect x="402.80" y="16.80" width="30.40" height="9.60" fill="#78C3ED" fill-opacity="1.00" stroke="none"/>
<rect x="402.80" y="16.80" width="30.40" height="9.60" fill="none" stroke="#000" stroke-opacity="0.3" stroke-width="1"/>
<text x="445.20" y="27.00" font-size="15.30" textLength="47.41" lengthAdjust="spacingAndGlyphs">Power</text>
<text x="497.54" y="27.00" font-size="15.30" textLength="75.11" lengthAdjust="spacingAndGlyphs">Spectrum</text>
<text x="577.58" y="27.00" font-size="15.30" textLength="12.99" lengthAdjust="spacingAndGlyphs">+</text>
<text x="595.49" y="27.00" font-size="15.30" textLength="88.28" lengthAdjust="spacingAndGlyphs">Bispectrum</text>
<rect x="402.80" y="39.60" width="30.40" height="9.60" fill="#DB6100" fill-opacity="1.00" stroke="none"/>
<rect x="402.80" y="39.60" width="30.40" height="9.60" fill="none" stroke="#000" stroke-opacity="0.3" stroke-width="1"/>
<text x="445.20" y="49.80" font-size="15.30" textLength="47.41" lengthAdjust="spacingAndGlyphs">Power</text>
<text x="497.54" y="49.80" font-size="15.30" textLength="75.11" lengthAdjust="spacingAndGlyphs">Spectrum</text>
<text x="577.58" y="49.80" font-size="15.30" textLength="12.99" lengthAdjust="spacingAndGlyphs">+</text>
<text x="595.49" y="49.80" font-size="15.30" textLength="88.28" lengthAdjust="spacingAndGlyphs">Bispectrum</text>
<text x="688.70" y="49.80" font-size="15.30" textLength="12.99" lengthAdjust="spacingAndGlyphs">+</text>
<text x="706.62" y="49.80" font-size="15.30" textLength="33.95" lengthAdjust="spacingAndGlyphs">HMF</text>
</svg></body></html>
